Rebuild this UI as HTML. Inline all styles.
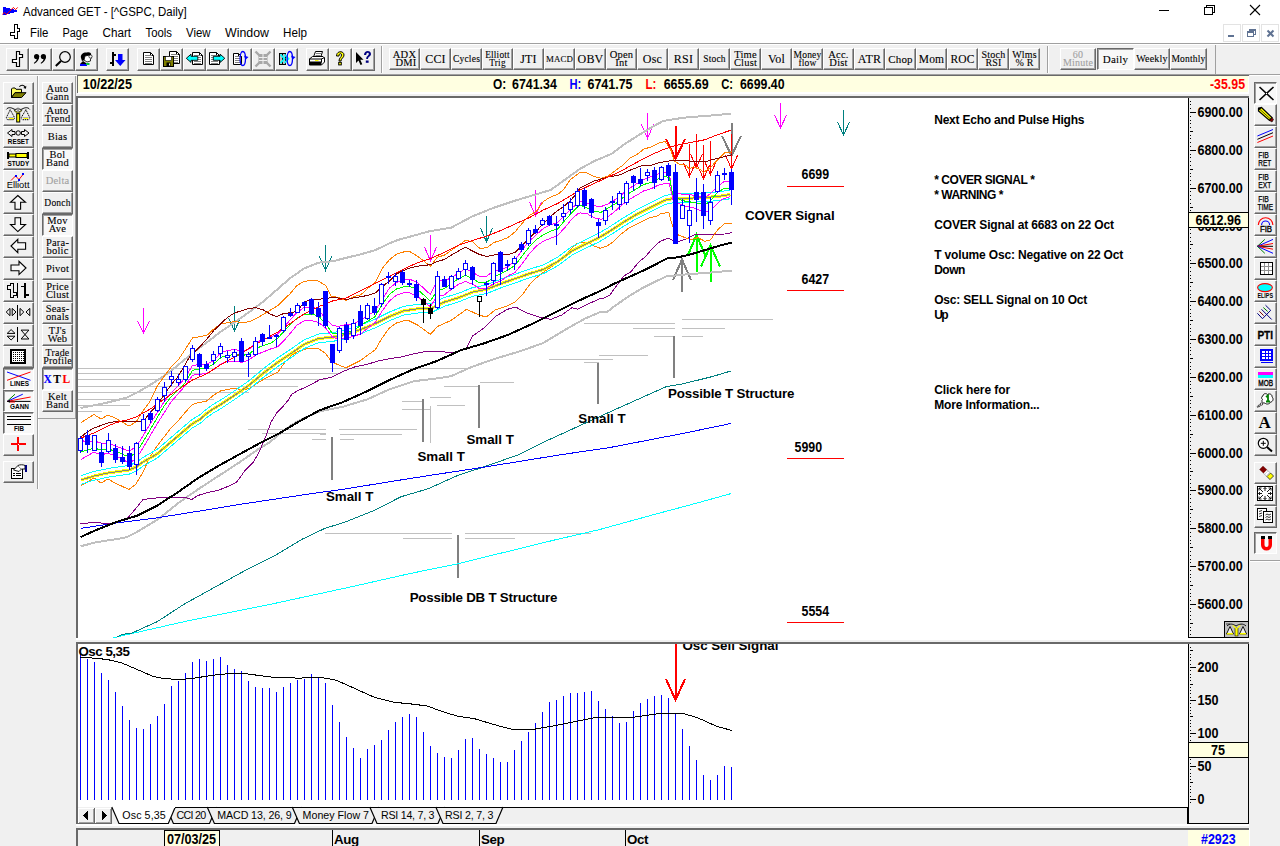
<!DOCTYPE html>
<html><head><meta charset="utf-8"><title>Advanced GET</title>
<style>
*{box-sizing:border-box}
html,body{margin:0;padding:0}
body{width:1280px;height:846px;background:#f0f0f0;position:relative;overflow:hidden;font-family:"Liberation Sans",sans-serif;font-size:12px;color:#000}
.abs{position:absolute}
.btn{position:absolute;background:#f0f0f0;border-top:1px solid #fff;border-left:1px solid #fff;border-right:1px solid #696969;border-bottom:1px solid #696969;box-shadow:inset -1px -1px 0 #a0a0a0}
.btn.dn{border-top:1px solid #696969;border-left:1px solid #696969;border-right:1px solid #fff;border-bottom:1px solid #fff;box-shadow:inset 1px 1px 0 #a0a0a0;background:#f8f8f8}
.sf{font-family:"Liberation Serif",serif;font-size:11px;line-height:8px;-webkit-text-stroke-width:0.1px;text-align:center;letter-spacing:0.2px;color:#000;white-space:nowrap;display:flex;align-items:center;justify-content:center;flex-direction:column}
.b{font-weight:bold}
svg{position:absolute;left:0;top:0}
</style></head><body>
<div class="abs" style="left:0;top:0;width:1280px;height:44px;background:#fff"></div><svg class="abs" style="left:0px;top:0px" width="22" height="22" viewBox="0 0 22 22" shape-rendering="crispEdges"><polygon points="3,7 6,7 6,8 10,8 10,9 14,9 14,10 17,10 17,12 14,12 14,13 10,13 10,14 6,14 6,15 3,15" fill="#0000ff"/><polyline points="2.300,14.400 4.500,12.500 6.500,14.500 13.400,7.400 15.500,9.600 17.700,7.400" stroke="#ff0000" stroke-width="1" fill="none" shape-rendering="auto"/></svg><svg width="400" height="44" viewBox="0 0 400 44"><text x="23" y="15.6" font-size="12" textLength="163.7" lengthAdjust="spacingAndGlyphs" style="font-family:'Liberation Sans',sans-serif">Advanced GET - [^GSPC, Daily]</text><text x="30" y="36.7" font-size="12" textLength="18.4" lengthAdjust="spacingAndGlyphs" style="font-family:'Liberation Sans',sans-serif">File</text><text x="62.5" y="36.7" font-size="12" textLength="25.5" lengthAdjust="spacingAndGlyphs" style="font-family:'Liberation Sans',sans-serif">Page</text><text x="102.5" y="36.7" font-size="12" textLength="28.5" lengthAdjust="spacingAndGlyphs" style="font-family:'Liberation Sans',sans-serif">Chart</text><text x="145.6" y="36.7" font-size="12" textLength="26.4" lengthAdjust="spacingAndGlyphs" style="font-family:'Liberation Sans',sans-serif">Tools</text><text x="186" y="36.7" font-size="12" textLength="24.5" lengthAdjust="spacingAndGlyphs" style="font-family:'Liberation Sans',sans-serif">View</text><text x="225" y="36.7" font-size="12" textLength="44" lengthAdjust="spacingAndGlyphs" style="font-family:'Liberation Sans',sans-serif">Window</text><text x="283" y="36.7" font-size="12" textLength="24" lengthAdjust="spacingAndGlyphs" style="font-family:'Liberation Sans',sans-serif">Help</text></svg><svg width="1280" height="44" viewBox="0 0 1280 44"><g stroke="#000" stroke-width="1" fill="none" shape-rendering="crispEdges"><line x1="1159" y1="10.5" x2="1169" y2="10.5"/><rect x="1204.5" y="7.5" width="8" height="7"/><polyline points="1206.5,7.5 1206.5,5.5 1214.5,5.5 1214.5,12.5 1212.5,12.5"/></g><g stroke="#000" stroke-width="1.1"><line x1="1250" y1="5" x2="1260" y2="15"/><line x1="1260" y1="5" x2="1250" y2="15"/></g><g fill="none" stroke="#e3e3e3" shape-rendering="crispEdges"><rect x="1223.5" y="24.5" width="17" height="17"/><rect x="1242.5" y="24.5" width="17" height="17"/><rect x="1261.5" y="24.5" width="17" height="17"/></g><g stroke="#5f7292" fill="none"><line x1="1228" y1="36" x2="1234" y2="36" stroke-width="2" shape-rendering="crispEdges"/><rect x="1247.500" y="32.500" width="6" height="4" shape-rendering="crispEdges"/><line x1="1247" y1="32" x2="1254" y2="32" stroke-width="2" shape-rendering="crispEdges"/><polyline points="1249.500,31 1249.500,29.500 1255.500,29.500 1255.500,34.500 1254,34.500" shape-rendering="crispEdges"/><line x1="1249" y1="29.5" x2="1256" y2="29.5" stroke-width="2" shape-rendering="crispEdges"/><g stroke-width="2"><line x1="1267.500" y1="30.500" x2="1273.500" y2="36.500"/><line x1="1273.500" y1="30.500" x2="1267.500" y2="36.500"/></g></g></svg><svg class="abs" style="left:9px;top:24px" width="12" height="16" viewBox="0 0 12 16" shape-rendering="crispEdges"><polygon points="5.5,0.5 8.5,0.5 8.5,4.5 10.5,4.5 10.5,7.500 8.500,7.500 8.500,14.500 5.500,14.500 5.500,11.500 1.500,11.500 1.500,8.500 5.500,8.500" fill="#fff" stroke="#000"/></svg><div class="abs" style="left:0;top:43px;width:1280px;height:1px;background:#a0a0a0"></div><div class="abs" style="left:0;top:44px;width:1280px;height:1px;background:#fff"></div><div class="abs" style="left:0;top:74px;width:1249px;height:1px;background:#a0a0a0"></div><div class="abs" style="left:0;top:75px;width:1249px;height:1px;background:#fff"></div><div class="btn " style="left:6px;top:48px;width:23px;height:23px;"><svg style="position:absolute;left:0;top:0" width="21" height="21" viewBox="0 0 21 21"><polygon points="9.5,2.5 12.5,2.5 12.5,5.5 15.5,5.5 15.5,8.5 12.5,8.5 12.5,17.5 9.5,17.5 9.5,13.5 5.5,13.5 5.5,10.5 9.5,10.5" fill="#fff" stroke="#000" stroke-width="1.2"/></svg></div><div class="btn " style="left:29px;top:48px;width:23px;height:23px;"><svg style="position:absolute;left:0;top:0" width="21" height="21" viewBox="0 0 21 21"><g fill="#000"><circle cx="6.6" cy="7.5" r="2.6"/><path d="M9.2,7.5 C9.2,11 7,13 4.3,14.8 L3.8,14 C6,12.500 7,11 6.6,9 Z"/><circle cx="13.4" cy="7.5" r="2.6"/><path d="M16,7.5 C16,11 13.800,13 11.100,14.8 L10.600,14 C12.800,12.500 13.800,11 13.400,9 Z"/></g></svg></div><div class="btn " style="left:52px;top:48px;width:23px;height:23px;"><svg style="position:absolute;left:0;top:0" width="21" height="21" viewBox="0 0 21 21"><circle cx="12" cy="8" r="5.3" fill="none" stroke="#000" stroke-width="1.2"/><line x1="8" y1="12" x2="2.800" y2="17" stroke="#000" stroke-width="2"/></svg></div><div class="btn " style="left:75px;top:48px;width:23px;height:23px;"><svg style="position:absolute;left:0;top:0" width="21" height="21" viewBox="0 0 21 21"><path d="M5,9 C4,5 8,3 11,3.500 C13,2.500 16,4 15,6 L11,7 L9,11 L6,12 Z" fill="#000"/><path d="M9,7 L14,6 L15.500,9 L14.500,10 L14.500,12 L11,13 L8,11 Z" fill="#fff" stroke="#000" stroke-width="0.8"/><circle cx="14.5" cy="7.5" r="1.6" fill="#fff" stroke="#000" stroke-width="0.7"/><path d="M7,12 L10,14 L10,15 L4,15 Z" fill="#000"/><rect x="4" y="15" width="7" height="2" fill="#0000ff"/><rect x="10" y="14" width="3.500" height="2" fill="#00c040"/></svg></div><div class="btn " style="left:106px;top:48px;width:23px;height:23px;"><svg style="position:absolute;left:0;top:0" width="21" height="21" viewBox="0 0 21 21"><rect x="5" y="3" width="2" height="14" fill="#000"/><rect x="3" y="13" width="2" height="2" fill="#000"/><rect x="7" y="5" width="2" height="2" fill="#000"/><polygon points="11,5 15.500,5 15.500,11 18.500,11 13.250,17 8,11 11,11" fill="#0000ff"/></svg></div><div class="btn " style="left:137px;top:48px;width:23px;height:23px;"><svg style="position:absolute;left:0;top:0" width="21" height="21" viewBox="0 0 21 21"><polygon points="5.5,3.5 12.5,3.5 15.5,6.5 15.5,15.5 5.5,15.5" fill="#fff" stroke="#000"/><polyline points="12.5,3.5 12.5,6.5 15.5,6.5" fill="none" stroke="#000"/><line x1="7" y1="6.5" x2="14" y2="6.5" stroke="#808080"/><line x1="7" y1="8.5" x2="14" y2="8.5" stroke="#808080"/><line x1="7" y1="10.5" x2="14" y2="10.5" stroke="#808080"/><line x1="7" y1="12.5" x2="14" y2="12.5" stroke="#808080"/><line x1="7" y1="14.5" x2="14" y2="14.5" stroke="#808080"/></svg></div><div class="btn " style="left:160px;top:48px;width:23px;height:23px;"><svg style="position:absolute;left:0;top:0" width="21" height="21" viewBox="0 0 21 21"><polygon points="8.5,2.5 15.5,2.5 18.5,5.5 18.5,14.5 8.5,14.5" fill="#fff" stroke="#000"/><polyline points="15.5,2.5 15.5,5.5 18.5,5.5" fill="none" stroke="#000"/><line x1="10" y1="5.5" x2="17" y2="5.5" stroke="#808080"/><line x1="10" y1="7.5" x2="17" y2="7.5" stroke="#808080"/><line x1="10" y1="9.5" x2="17" y2="9.5" stroke="#808080"/><line x1="10" y1="11.5" x2="17" y2="11.5" stroke="#808080"/><line x1="10" y1="13.5" x2="17" y2="13.5" stroke="#808080"/><rect x="2.5" y="7.5" width="10" height="10" fill="#808000" stroke="#000"/><rect x="4.500" y="7.500" width="6" height="4" fill="#fff" stroke="#000" stroke-width="0.6"/><rect x="5.500" y="13.500" width="4" height="4" fill="#000"/><rect x="8" y="14.500" width="1" height="2" fill="#fff"/></svg></div><div class="btn " style="left:183px;top:48px;width:23px;height:23px;"><svg style="position:absolute;left:0;top:0" width="21" height="21" viewBox="0 0 21 21"><polygon points="8.5,3.5 15.5,3.5 18.5,6.5 18.5,15.5 8.5,15.5" fill="#fff" stroke="#000"/><polyline points="15.5,3.5 15.5,6.5 18.5,6.5" fill="none" stroke="#000"/><line x1="10" y1="6.5" x2="17" y2="6.5" stroke="#808080"/><line x1="10" y1="8.5" x2="17" y2="8.5" stroke="#808080"/><line x1="10" y1="10.5" x2="17" y2="10.5" stroke="#808080"/><line x1="10" y1="12.5" x2="17" y2="12.5" stroke="#808080"/><line x1="10" y1="14.5" x2="17" y2="14.5" stroke="#808080"/><polygon points="2.300,9.300 7,5.200 7,7.300 13.800,7.300 13.800,11.300 7,11.300 7,13.400" fill="#00ffff" stroke="#000" stroke-width="0.900"/></svg></div><div class="btn " style="left:206px;top:48px;width:23px;height:23px;"><svg style="position:absolute;left:0;top:0" width="21" height="21" viewBox="0 0 21 21"><polygon points="2.5,3.5 9.5,3.5 12.5,6.5 12.5,15.5 2.5,15.5" fill="#fff" stroke="#000"/><polyline points="9.5,3.5 9.5,6.5 12.5,6.5" fill="none" stroke="#000"/><line x1="4" y1="6.5" x2="11" y2="6.5" stroke="#808080"/><line x1="4" y1="8.5" x2="11" y2="8.5" stroke="#808080"/><line x1="4" y1="10.5" x2="11" y2="10.5" stroke="#808080"/><line x1="4" y1="12.5" x2="11" y2="12.5" stroke="#808080"/><line x1="4" y1="14.5" x2="11" y2="14.5" stroke="#808080"/><polygon points="17.800,9.300 13.100,5.200 13.100,7.300 6.300,7.300 6.300,11.300 13.100,11.300 13.100,13.400" fill="#00ffff" stroke="#000" stroke-width="0.900"/></svg></div><div class="btn " style="left:229px;top:48px;width:23px;height:23px;"><svg style="position:absolute;left:0;top:0" width="21" height="21" viewBox="0 0 21 21"><polygon points="3.5,4.5 8.5,4.5 11.5,7.5 11.5,15.5 3.5,15.5" fill="#fff" stroke="#000"/><polyline points="8.5,4.5 8.5,7.5 11.5,7.5" fill="none" stroke="#000"/><line x1="5" y1="7.5" x2="10" y2="7.5" stroke="#808080"/><line x1="5" y1="9.5" x2="10" y2="9.5" stroke="#808080"/><line x1="5" y1="11.5" x2="10" y2="11.5" stroke="#808080"/><line x1="5" y1="13.5" x2="10" y2="13.5" stroke="#808080"/><ellipse cx="12.8" cy="9.500" rx="2.700" ry="7" fill="none" stroke="#0000ff" stroke-width="1.300"/><polygon points="14,6.500 18.5,8 15.5,10.800" fill="#0000ff"/></svg></div><div class="btn " style="left:252px;top:48px;width:23px;height:23px;"><svg style="position:absolute;left:0;top:0" width="21" height="21" viewBox="0 0 21 21"><g stroke="#a8a8a8" stroke-width="2.4"><line x1="2.5" y1="2.5" x2="17.5" y2="17.5"/><line x1="17.5" y1="2.5" x2="2.5" y2="17.5"/></g><rect x="5.500" y="5" width="9" height="10" fill="#a8a8a8"/><g stroke="#f0f0f0" stroke-width="1"><line x1="6" y1="8.500" x2="14" y2="8.500"/><line x1="6" y1="11.500" x2="14" y2="11.500"/><line x1="10" y1="5" x2="10" y2="15"/></g></svg></div><div class="btn " style="left:275px;top:48px;width:23px;height:23px;"><svg style="position:absolute;left:0;top:0" width="21" height="21" viewBox="0 0 21 21"><rect x="3.5" y="4.5" width="6" height="11" fill="#c0c0c0" stroke="#000"/><line x1="6.500" y1="4.500" x2="6.500" y2="15.500" stroke="#000"/><g fill="none" stroke="#00ffff" stroke-width="1.8"><polyline points="4.500,5.500 8.500,9.800 4.500,14"/><polyline points="8.500,5.500 12.500,9.800 8.500,14"/></g><ellipse cx="13.8" cy="9.500" rx="2.700" ry="7" fill="none" stroke="#0000ff" stroke-width="1.300"/><polygon points="15,6.500 19.5,8 16.5,10.800" fill="#0000ff"/></svg></div><div class="btn " style="left:306px;top:48px;width:23px;height:23px;"><svg style="position:absolute;left:0;top:0" width="21" height="21" viewBox="0 0 21 21"><polygon points="6.5,8 8.500,2.500 15.500,2.500 13.800,8" fill="#fff" stroke="#000"/><line x1="9" y1="4.500" x2="14" y2="4.500" stroke="#808080"/><line x1="8.500" y1="6.500" x2="13.500" y2="6.500" stroke="#808080"/><path d="M2.500,10 L5.500,7.500 L16,7.500 L17.500,9 L17.500,13 L14.500,16 L2.500,16 Z" fill="#fff" stroke="#000"/><rect x="2.500" y="10" width="12" height="3" fill="#fff" stroke="#000"/><rect x="2.500" y="13" width="12" height="3" fill="#000"/><rect x="8" y="11" width="3.500" height="1" fill="#ffff00"/><line x1="14.500" y1="10" x2="17.500" y2="8.500" stroke="#000"/></svg></div><div class="btn " style="left:329px;top:48px;width:23px;height:23px;"><svg style="position:absolute;left:0;top:0" width="21" height="21" viewBox="0 0 21 21"><path d="M6.500,7 C6.500,1.500 14,1.500 14,6 C14,9 11,9 11,12 L9,12 C9,8.500 11.500,8.500 11.500,6 C11.500,4 9,4 9,7 Z" fill="#ffff00" stroke="#000" stroke-width="1"/><rect x="8.700" y="13.300" width="2.600" height="2.600" fill="#ffff00" stroke="#000" stroke-width="1"/></svg></div><div class="btn " style="left:352px;top:48px;width:23px;height:23px;"><svg style="position:absolute;left:0;top:0" width="21" height="21" viewBox="0 0 21 21"><polygon points="3,3 3,14 5.500,11.500 7.500,16 9.300,15.200 7.300,10.800 10.500,10.800" fill="#000"/><path d="M11,6 C11,1 18,1 18,5 C18,7.500 15,7.500 15,10 L13.200,10 C13.200,6.800 15.800,6.800 15.800,5 C15.800,3.300 13.200,3.300 13.200,6 Z" fill="#000080"/><rect x="12.800" y="11.500" width="2.800" height="2.300" fill="#000080"/></svg></div><div class="abs" style="left:381px;top:46px;width:1px;height:27px;background:#a0a0a0"></div><div class="abs" style="left:382px;top:46px;width:1px;height:27px;background:#fff"></div><div class="abs" style="left:1047px;top:46px;width:1px;height:27px;background:#a0a0a0"></div><div class="abs" style="left:1048px;top:46px;width:1px;height:27px;background:#fff"></div><div class="abs" style="left:1215px;top:45px;width:1px;height:29px;background:#a0a0a0"></div><div class="btn sf " style="left:389px;top:48px;width:31px;height:22px;font-size:10.5px;color:#000;"><div>ADX</div><div>&nbsp;DMI</div></div><div class="btn sf " style="left:420px;top:48px;width:31px;height:22px;font-size:12px;color:#000;"><div>CCI</div></div><div class="btn sf " style="left:451px;top:48px;width:31px;height:22px;font-size:9.5px;color:#000;"><div>Cycles</div></div><div class="btn sf " style="left:482px;top:48px;width:31px;height:22px;font-size:9.3px;color:#000;"><div>Elliott</div><div>Trig</div></div><div class="btn sf " style="left:513px;top:48px;width:31px;height:22px;font-size:12px;color:#000;"><div>JTI</div></div><div class="btn sf " style="left:544px;top:48px;width:31px;height:22px;font-size:8.8px;color:#000;"><div>MACD</div></div><div class="btn sf " style="left:575px;top:48px;width:31px;height:22px;font-size:12px;color:#000;"><div>OBV</div></div><div class="btn sf " style="left:606px;top:48px;width:31px;height:22px;font-size:10.5px;color:#000;"><div>Open</div><div>Int</div></div><div class="btn sf " style="left:637px;top:48px;width:31px;height:22px;font-size:12px;color:#000;"><div>Osc</div></div><div class="btn sf " style="left:668px;top:48px;width:31px;height:22px;font-size:12px;color:#000;"><div>RSI</div></div><div class="btn sf " style="left:699px;top:48px;width:31px;height:22px;font-size:9.5px;color:#000;"><div>Stoch</div></div><div class="btn sf " style="left:730px;top:48px;width:31px;height:22px;font-size:10.5px;color:#000;"><div>Time</div><div>Clust</div></div><div class="btn sf " style="left:761px;top:48px;width:31px;height:22px;font-size:12px;color:#000;"><div>Vol</div></div><div class="btn sf " style="left:792px;top:48px;width:31px;height:22px;font-size:9.5px;color:#000;"><div>Money</div><div>flow</div></div><div class="btn sf " style="left:823px;top:48px;width:31px;height:22px;font-size:10.5px;color:#000;"><div>Acc.</div><div>Dist</div></div><div class="btn sf " style="left:854px;top:48px;width:31px;height:22px;font-size:12px;color:#000;"><div>ATR</div></div><div class="btn sf " style="left:885px;top:48px;width:31px;height:22px;font-size:11px;color:#000;"><div>Chop</div></div><div class="btn sf " style="left:916px;top:48px;width:31px;height:22px;font-size:11.5px;color:#000;"><div>Mom</div></div><div class="btn sf " style="left:947px;top:48px;width:31px;height:22px;font-size:11.5px;color:#000;"><div>ROC</div></div><div class="btn sf " style="left:978px;top:48px;width:31px;height:22px;font-size:10px;color:#000;"><div>Stoch</div><div>RSI</div></div><div class="btn sf " style="left:1009px;top:48px;width:31px;height:22px;font-size:10px;color:#000;"><div>Wlms</div><div>% R</div></div><div class="btn sf " style="left:1060px;top:48px;width:36px;height:22px;font-size:10px;color:#a0a0a0;"><div>60</div><div>Minute</div></div><div class="btn sf dn" style="left:1097px;top:48px;width:37px;height:22px;font-size:11px;color:#000;"><div>Daily</div></div><div class="btn sf " style="left:1134px;top:48px;width:36px;height:22px;font-size:10px;color:#000;"><div>Weekly</div></div><div class="btn sf " style="left:1170px;top:48px;width:37px;height:22px;font-size:9.5px;color:#000;"><div>Monthly</div></div><div class="abs" style="left:37px;top:76px;width:1px;height:413px;background:#a0a0a0"></div><div class="abs" style="left:38px;top:76px;width:1px;height:413px;background:#fff"></div><div class="abs" style="left:38px;top:418px;width:38px;height:1px;background:#a0a0a0"></div><div class="abs" style="left:75px;top:76px;width:1px;height:343px;background:#a0a0a0"></div><div class="btn " style="left:3px;top:82px;width:31px;height:22px;"><svg style="position:absolute;left:0;top:0" width="29" height="19" viewBox="0 0 29 19"><polygon points="7.500,14.500 7.500,6 8.500,5 11,5 12,6.300 17.500,6.300 17.500,9.700 11,9.700" fill="#ffff60" stroke="#000" stroke-width="1"/><polygon points="7.500,14.500 11,9.700 22,9.700 17.600,14.500" fill="#808000" stroke="#000" stroke-width="1"/><path d="M15.400,3.800 C17,1.500 20,1.800 21.300,4.600" fill="none" stroke="#000" stroke-width="1.100"/><polygon points="19.300,5 22.300,2.800 22,5.800" fill="#000"/></svg></div><div class="btn " style="left:3px;top:104px;width:31px;height:22px;"><svg style="position:absolute;left:0;top:0" width="29" height="19" viewBox="0 0 29 19"><g fill="none" stroke="#000" stroke-width="1"><path d="M2.400,4.400 C4,2 7,2.500 9,3.600 C10.500,4.500 12,5 13.200,3.500 L14.900,3.500 C16,5 17.500,4.500 19,3.600 C21,2.500 24,2 25.700,4.400"/><path d="M6.200,4.700 L2.400,12.500 C2.600,14.600 3.500,14.700 4,14.700 L9,14.700 C9.600,14.700 10.300,14.600 10.500,12.500 Z" stroke-dasharray="1.300,0.700"/><path d="M21.900,4.700 L17.300,12.500 C17.500,14.600 18.300,14.700 19,14.700 L24,14.700 C24.700,14.700 25.500,14.600 25.700,12.500 Z" stroke-dasharray="1.300,0.700"/></g><rect x="5" y="13" width="4.800" height="1" fill="#ffff00"/><rect x="19.500" y="13" width="4.800" height="1" fill="#ffff00"/><rect x="3.500" y="12.200" width="6" height="0.800" fill="#a0a0a0"/><rect x="18.500" y="12.200" width="6" height="0.800" fill="#a0a0a0"/><polygon points="10,5.500 13.800,9 18.100,5.500 17,5.500 14,7.500 11,5.500" fill="#ffff00" stroke="#000" stroke-width="0.600"/><rect x="12.700" y="8.700" width="3" height="8.300" fill="#ffff00" stroke="#000" stroke-width="1"/><rect x="13.200" y="2.700" width="1.700" height="4.400" fill="#909090"/></svg></div><div class="btn " style="left:3px;top:126px;width:31px;height:22px;"><svg style="position:absolute;left:0;top:0" width="29" height="19" viewBox="0 0 29 19"><g fill="#f0f0f0" stroke="#000" stroke-width="1"><polygon points="3.500,6 8,2.500 8,4.500 11,4.500 11,7.500 8,7.500 8,9.500"/><polygon points="25,6 20.500,2.500 20.500,4.500 17.500,4.500 17.500,7.500 20.500,7.500 20.500,9.500"/><circle cx="14.200" cy="6" r="2.200"/></g><text x="3.8" y="17" font-size="7.5" textLength="21.2" lengthAdjust="spacingAndGlyphs" fill="#000" shape-rendering="auto" style="font-family:'Liberation Sans',sans-serif;font-weight:bold">RESET</text></svg></div><div class="btn " style="left:3px;top:148px;width:31px;height:22px;"><svg style="position:absolute;left:0;top:0" width="29" height="19" viewBox="0 0 29 19"><rect x="3" y="3" width="2" height="7" fill="#000"/><rect x="23" y="3" width="2" height="7" fill="#000"/><rect x="5" y="5" width="7" height="3" fill="#ffff00" stroke="#000" stroke-width="1"/><rect x="12" y="4.500" width="11" height="4" fill="#ffff00" stroke="#000" stroke-width="1"/><text x="3.4" y="17" font-size="7.5" textLength="21.8" lengthAdjust="spacingAndGlyphs" fill="#000" shape-rendering="auto" style="font-family:'Liberation Sans',sans-serif;font-weight:bold">STUDY</text></svg></div><div class="btn " style="left:3px;top:170px;width:31px;height:22px;"><svg style="position:absolute;left:0;top:0" width="29" height="19" viewBox="0 0 29 19" shape-rendering="crispEdges"><polyline points="7,9.500 11.500,5 15,8.500 19,3.500" fill="none" stroke="#ff0000" stroke-width="1" shape-rendering="auto"/><rect x="11" y="3.500" width="2" height="2" fill="#0000ff"/><rect x="14" y="8" width="2" height="2" fill="#0000ff"/><rect x="18" y="2" width="2" height="2" fill="#0000ff"/><text x="2.7" y="16.8" font-size="8.5" textLength="22.8" lengthAdjust="spacingAndGlyphs" fill="#000" shape-rendering="auto" style="font-family:'Liberation Sans',sans-serif;font-weight:normal">Elliott</text></svg></div><div class="btn " style="left:3px;top:192px;width:31px;height:22px;"><svg style="position:absolute;left:0;top:0" width="29" height="19" viewBox="0 0 29 19"><polygon points="13.800,2.500 21.500,9.300 16.600,9.300 16.600,16.300 11,16.300 11,9.300 6.500,9.300" fill="#f8f8f8" stroke="#000" stroke-width="1.1"/></svg></div><div class="btn " style="left:3px;top:214px;width:31px;height:22px;"><svg style="position:absolute;left:0;top:0" width="29" height="19" viewBox="0 0 29 19"><polygon points="13.800,16.600 21.500,9.500 16.600,9.500 16.600,2.700 11,2.700 11,9.500 6.500,9.500" fill="#f8f8f8" stroke="#000" stroke-width="1.1"/></svg></div><div class="btn " style="left:3px;top:236px;width:31px;height:22px;"><svg style="position:absolute;left:0;top:0" width="29" height="19" viewBox="0 0 29 19"><polygon points="7,9 13.800,2.300 13.800,5.800 21.600,5.800 21.600,12.300 13.800,12.300 13.800,15.700" fill="#f8f8f8" stroke="#000" stroke-width="1.1"/></svg></div><div class="btn " style="left:3px;top:258px;width:31px;height:22px;"><svg style="position:absolute;left:0;top:0" width="29" height="19" viewBox="0 0 29 19"><polygon points="22,9 15,2.300 15,6 7,6 7,11.800 15,11.800 15,15.600" fill="#f8f8f8" stroke="#000" stroke-width="1.1"/></svg></div><div class="btn " style="left:3px;top:280px;width:31px;height:22px;"><svg style="position:absolute;left:0;top:0" width="29" height="19" viewBox="0 0 29 19" shape-rendering="crispEdges"><polygon points="6.500,2.500 9.500,2.500 9.500,11.500 12.500,11.500 12.500,14.500 9.500,14.500 9.500,16.500 6.500,16.500 6.500,8.500 3.500,8.500 3.500,4.500 6.500,4.500" fill="#f0f0f0" stroke="#000" stroke-width="1"/><rect x="13" y="2" width="1" height="15" fill="#000"/><rect x="20" y="2" width="2" height="15" fill="#000"/><rect x="17" y="5" width="3" height="1" fill="#000"/><rect x="22" y="13" width="3" height="2" fill="#000"/></svg></div><div class="btn " style="left:3px;top:302px;width:31px;height:22px;"><svg style="position:absolute;left:0;top:0" width="29" height="19" viewBox="0 0 29 19" shape-rendering="crispEdges"><rect x="13" y="2" width="1" height="15" fill="#000"/><g fill="none" stroke="#000" stroke-width="1" shape-rendering="auto"><polygon points="2.200,9 6,5.400 6,12.700"/><polygon points="12,9 8.200,5.400 8.200,12.700"/><polygon points="19.800,9 16,5.400 16,12.700"/><polygon points="22,9 25.800,5.400 25.800,12.700"/></g></svg></div><div class="btn " style="left:3px;top:324px;width:31px;height:22px;"><svg style="position:absolute;left:0;top:0" width="29" height="19" viewBox="0 0 29 19" shape-rendering="crispEdges"><rect x="13" y="2" width="1" height="15" fill="#000"/><g fill="none" stroke="#000" stroke-width="1" shape-rendering="auto"><polygon points="3.200,8.400 7.100,4.600 11,8.400"/><polygon points="3.200,11.200 7.100,15 11,11.200"/><polygon points="17.100,5.100 24.900,5.100 17.100,14 24.900,14"/></g></svg></div><div class="btn " style="left:3px;top:346px;width:31px;height:22px;"><svg style="position:absolute;left:0;top:0" width="29" height="19" viewBox="0 0 29 19" shape-rendering="crispEdges"><rect x="6" y="2" width="16" height="15" fill="#000"/><rect x="8" y="4" width="12" height="11" fill="#fff"/><rect x="9" y="5" width="1" height="1" fill="#000"/><rect x="9" y="7" width="1" height="1" fill="#000"/><rect x="9" y="9" width="1" height="1" fill="#000"/><rect x="9" y="11" width="1" height="1" fill="#000"/><rect x="9" y="13" width="1" height="1" fill="#000"/><rect x="11" y="5" width="1" height="1" fill="#000"/><rect x="11" y="7" width="1" height="1" fill="#000"/><rect x="11" y="9" width="1" height="1" fill="#000"/><rect x="11" y="11" width="1" height="1" fill="#000"/><rect x="11" y="13" width="1" height="1" fill="#000"/><rect x="13" y="5" width="1" height="1" fill="#000"/><rect x="13" y="7" width="1" height="1" fill="#000"/><rect x="13" y="9" width="1" height="1" fill="#000"/><rect x="13" y="11" width="1" height="1" fill="#000"/><rect x="13" y="13" width="1" height="1" fill="#000"/><rect x="15" y="5" width="1" height="1" fill="#000"/><rect x="15" y="7" width="1" height="1" fill="#000"/><rect x="15" y="9" width="1" height="1" fill="#000"/><rect x="15" y="11" width="1" height="1" fill="#000"/><rect x="15" y="13" width="1" height="1" fill="#000"/><rect x="17" y="5" width="1" height="1" fill="#000"/><rect x="17" y="7" width="1" height="1" fill="#000"/><rect x="17" y="9" width="1" height="1" fill="#000"/><rect x="17" y="11" width="1" height="1" fill="#000"/><rect x="17" y="13" width="1" height="1" fill="#000"/><rect x="19" y="5" width="1" height="1" fill="#000"/><rect x="19" y="7" width="1" height="1" fill="#000"/><rect x="19" y="9" width="1" height="1" fill="#000"/><rect x="19" y="11" width="1" height="1" fill="#000"/><rect x="19" y="13" width="1" height="1" fill="#000"/></svg></div><div class="btn dn" style="left:3px;top:368px;width:31px;height:22px;"><svg style="position:absolute;left:0;top:0" width="29" height="19" viewBox="0 0 29 19" shape-rendering="crispEdges"><g shape-rendering="auto" stroke-width="1"><line x1="3" y1="3" x2="26.500" y2="11.300" stroke="#0000ff"/><line x1="3" y1="11.300" x2="26.500" y2="3" stroke="#ff0000"/></g><text x="6" y="17.4" font-size="7.5" textLength="19" lengthAdjust="spacingAndGlyphs" fill="#000" shape-rendering="auto" style="font-family:'Liberation Sans',sans-serif;font-weight:bold">LINES</text></svg></div><div class="btn dn" style="left:3px;top:390px;width:31px;height:22px;"><svg style="position:absolute;left:0;top:0" width="29" height="19" viewBox="0 0 29 19" shape-rendering="crispEdges"><g shape-rendering="auto" stroke-width="1"><line x1="3.200" y1="10.400" x2="11" y2="3.200" stroke="#008000"/><line x1="3.200" y1="10.400" x2="18.800" y2="3.200" stroke="#0000ff"/><line x1="3.200" y1="10.400" x2="26.600" y2="6" stroke="#ff0000"/><line x1="3.200" y1="10.400" x2="26.600" y2="10.400" stroke="#000"/><polygon points="3,10.400 6,9 6,11.800" fill="#000"/><line x1="6" y1="11" x2="11" y2="11" stroke="#ff0000"/></g><text x="6" y="17.6" font-size="7.5" textLength="19" lengthAdjust="spacingAndGlyphs" fill="#000" shape-rendering="auto" style="font-family:'Liberation Sans',sans-serif;font-weight:bold">GANN</text></svg></div><div class="btn dn" style="left:3px;top:412px;width:31px;height:22px;"><svg style="position:absolute;left:0;top:0" width="29" height="19" viewBox="0 0 29 19" shape-rendering="crispEdges"><rect x="3" y="3" width="24" height="1" fill="#000"/><rect x="3" y="6" width="24" height="1" fill="#000"/><rect x="3" y="11" width="24" height="1" fill="#000"/><text x="10" y="17.8" font-size="7.5" textLength="10" lengthAdjust="spacingAndGlyphs" fill="#000" shape-rendering="auto" style="font-family:'Liberation Sans',sans-serif;font-weight:bold">FIB</text></svg></div><div class="btn " style="left:3px;top:434px;width:31px;height:22px;"><svg style="position:absolute;left:0;top:0" width="29" height="19" viewBox="0 0 29 19" shape-rendering="crispEdges"><rect x="7" y="8" width="15" height="2" fill="#ff0000"/><rect x="13" y="2" width="2" height="14" fill="#ff0000"/><rect x="13.500" y="8.500" width="1" height="1" fill="#fff"/></svg></div><div class="btn " style="left:3px;top:461px;width:31px;height:22px;"><svg style="position:absolute;left:0;top:0" width="29" height="19" viewBox="0 0 29 19" shape-rendering="crispEdges"><rect x="7.500" y="6.500" width="11" height="10" fill="#fff" stroke="#000" stroke-width="1.2"/><rect x="9" y="11" width="2" height="1" fill="#000"/><rect x="12" y="11" width="5" height="1" fill="#000"/><rect x="9" y="13" width="2" height="1" fill="#000"/><rect x="12" y="13" width="5" height="1" fill="#000"/><path d="M9.500,8 L14,3.500 L17.500,7 L15,9.500 Z" fill="#fff" stroke="#000" stroke-width="0.9" shape-rendering="auto"/><path d="M14,3.500 C16,2.500 19,2.500 21,3.500 L21,7 L17.500,7" fill="#fff" stroke="#000" stroke-width="0.9" shape-rendering="auto"/><rect x="21" y="3" width="2" height="7" fill="#000080"/></svg></div><div class="btn sf " style="left:42px;top:82px;width:31px;height:22px;font-size:10.5px;color:#000;"><div>Auto</div><div>Gann</div></div><div class="btn sf " style="left:42px;top:104px;width:31px;height:22px;font-size:10.5px;color:#000;"><div>Auto</div><div>Trend</div></div><div class="btn sf " style="left:42px;top:126px;width:31px;height:22px;font-size:10.5px;color:#000;"><div>Bias</div></div><div class="btn sf dn" style="left:42px;top:148px;width:31px;height:22px;font-size:10.5px;color:#000;"><div>Bol</div><div>Band</div></div><div class="btn sf " style="left:42px;top:170px;width:31px;height:22px;font-size:10.5px;color:#a0a0a0;"><div>Delta</div></div><div class="btn sf " style="left:42px;top:192px;width:31px;height:22px;font-size:9.5px;color:#000;"><div>Donch</div></div><div class="btn sf dn" style="left:42px;top:214px;width:31px;height:22px;font-size:10.5px;color:#000;"><div>Mov</div><div>Ave</div></div><div class="btn sf " style="left:42px;top:236px;width:31px;height:22px;font-size:10.5px;color:#000;"><div>Para-</div><div>bolic</div></div><div class="btn sf " style="left:42px;top:258px;width:31px;height:22px;font-size:10.5px;color:#000;"><div>Pivot</div></div><div class="btn sf " style="left:42px;top:280px;width:31px;height:22px;font-size:10.5px;color:#000;"><div>Price</div><div>Clust</div></div><div class="btn sf " style="left:42px;top:302px;width:31px;height:22px;font-size:10.5px;color:#000;"><div>Seas-</div><div>onals</div></div><div class="btn sf " style="left:42px;top:324px;width:31px;height:22px;font-size:10.5px;color:#000;"><div>TJ's</div><div>Web</div></div><div class="btn sf " style="left:42px;top:346px;width:31px;height:22px;font-size:10px;color:#000;"><div>Trade</div><div>Profile</div></div><div class="btn dn" style="left:42px;top:368px;width:31px;height:22px;"><div class="sf" style="font-size:11.5px;font-weight:bold;height:20px;flex-direction:row;letter-spacing:1.5px"><span style="color:#0000ff">X</span><span>T</span><span style="color:#ff0000">L</span></div></div><div class="btn sf " style="left:42px;top:390px;width:31px;height:22px;font-size:10.5px;color:#000;"><div>Kelt</div><div>Band</div></div><div class="abs" style="left:1250px;top:74px;width:30px;height:1px;background:#a0a0a0"></div><div class="abs" style="left:1250px;top:75px;width:30px;height:1px;background:#fff"></div><div class="abs" style="left:1250px;top:560px;width:30px;height:1px;background:#a0a0a0"></div><div class="abs" style="left:1250px;top:561px;width:30px;height:1px;background:#fff"></div><div class="btn dn" style="left:1254px;top:82px;width:23px;height:22px;"><svg style="position:absolute;left:0;top:0" width="21" height="19" viewBox="0 0 21 19" shape-rendering="crispEdges"><g stroke="#000" stroke-width="1.6" shape-rendering="auto"><line x1="4.500" y1="4" x2="18.500" y2="17"/><line x1="18.500" y1="4" x2="4.500" y2="17"/></g><rect x="11" y="10" width="1" height="1" fill="#fff"/></svg></div><div class="btn " style="left:1254px;top:104px;width:23px;height:22px;"><svg style="position:absolute;left:0;top:0" width="21" height="19" viewBox="0 0 21 19" shape-rendering="crispEdges"><g shape-rendering="auto"><polygon points="3.500,3.500 6.500,2.500 17,12.500 14.500,15.500 3.500,6" fill="#ffff00" stroke="#000" stroke-width="1.2"/><line x1="5" y1="4.500" x2="15.500" y2="14" stroke="#000" stroke-width="0.7"/><polygon points="3,2.500 7,2.500 3,6.500" fill="#000"/><polygon points="14.500,15.500 17,12.500 18.500,14.500 17,17" fill="#800000" stroke="#000" stroke-width="0.6"/></g></svg></div><div class="btn " style="left:1254px;top:126px;width:23px;height:22px;"><svg style="position:absolute;left:0;top:0" width="21" height="19" viewBox="0 0 21 19" shape-rendering="crispEdges"><g shape-rendering="auto" stroke-width="1"><line x1="2.400" y1="9" x2="18" y2="2.500" stroke="#0000ff"/><line x1="2.400" y1="12.300" x2="18" y2="5.700" stroke="#000"/><line x1="2.400" y1="15.500" x2="18" y2="9" stroke="#ff0000"/></g></svg></div><div class="btn " style="left:1254px;top:148px;width:23px;height:22px;"><svg style="position:absolute;left:0;top:0" width="21" height="19" viewBox="0 0 21 19" shape-rendering="crispEdges"><text x="3.3" y="9.2" font-size="8.3" textLength="10.6" lengthAdjust="spacingAndGlyphs" fill="#000" stroke="#000" stroke-width="0.25" shape-rendering="auto" style="font-family:'Liberation Sans',sans-serif;font-weight:normal">FIB</text><text x="3.3" y="17.3" font-size="8.8" textLength="13" lengthAdjust="spacingAndGlyphs" fill="#000" stroke="#000" stroke-width="0.25" shape-rendering="auto" style="font-family:'Liberation Sans',sans-serif;font-weight:normal">RET</text></svg></div><div class="btn " style="left:1254px;top:170px;width:23px;height:22px;"><svg style="position:absolute;left:0;top:0" width="21" height="19" viewBox="0 0 21 19" shape-rendering="crispEdges"><text x="3.3" y="9.2" font-size="8.3" textLength="10.6" lengthAdjust="spacingAndGlyphs" fill="#000" stroke="#000" stroke-width="0.25" shape-rendering="auto" style="font-family:'Liberation Sans',sans-serif;font-weight:normal">FIB</text><text x="3.3" y="17.3" font-size="8.8" textLength="13" lengthAdjust="spacingAndGlyphs" fill="#000" stroke="#000" stroke-width="0.25" shape-rendering="auto" style="font-family:'Liberation Sans',sans-serif;font-weight:normal">EXT</text></svg></div><div class="btn " style="left:1254px;top:192px;width:23px;height:22px;"><svg style="position:absolute;left:0;top:0" width="21" height="19" viewBox="0 0 21 19" shape-rendering="crispEdges"><text x="3.3" y="9.2" font-size="8.3" textLength="10.6" lengthAdjust="spacingAndGlyphs" fill="#000" stroke="#000" stroke-width="0.25" shape-rendering="auto" style="font-family:'Liberation Sans',sans-serif;font-weight:normal">FIB</text><text x="2.4" y="17.3" font-size="8.8" textLength="15.6" lengthAdjust="spacingAndGlyphs" fill="#000" stroke="#000" stroke-width="0.25" shape-rendering="auto" style="font-family:'Liberation Sans',sans-serif;font-weight:normal">TIME</text></svg></div><div class="btn " style="left:1254px;top:214px;width:23px;height:22px;"><svg style="position:absolute;left:0;top:0" width="21" height="19" viewBox="0 0 21 19" shape-rendering="crispEdges"><g shape-rendering="auto" fill="none"><path d="M3.300,10 A7.300,7.300 0 0 1 17.900,10" stroke="#ff0000" stroke-width="1.1"/><path d="M6.600,10 A4,4 0 0 1 14.600,10" stroke="#0000ff" stroke-width="1.1"/></g><text x="4.9" y="17" font-size="8.5" textLength="12.2" lengthAdjust="spacingAndGlyphs" fill="#000" stroke="#000" stroke-width="0.35" shape-rendering="auto" style="font-family:'Liberation Sans',sans-serif;font-weight:normal">FIB</text></svg></div><div class="btn " style="left:1254px;top:236px;width:23px;height:22px;"><svg style="position:absolute;left:0;top:0" width="21" height="19" viewBox="0 0 21 19" shape-rendering="crispEdges"><g shape-rendering="auto" stroke-width="1"><line x1="2.400" y1="9.300" x2="9.800" y2="2.400" stroke="#008000"/><line x1="2.400" y1="9.300" x2="18" y2="2.400" stroke="#0000ff"/><line x1="2.400" y1="9.300" x2="18" y2="6.500" stroke="#ff0000"/><line x1="2.400" y1="9.300" x2="18" y2="9.300" stroke="#000"/><line x1="2.400" y1="9.300" x2="18" y2="12.200" stroke="#ff0000"/><line x1="2.400" y1="9.300" x2="18" y2="16.300" stroke="#0000ff"/><line x1="2.400" y1="9.300" x2="9.800" y2="16.300" stroke="#008000"/></g></svg></div><div class="btn " style="left:1254px;top:258px;width:23px;height:22px;"><svg style="position:absolute;left:0;top:0" width="21" height="19" viewBox="0 0 21 19" shape-rendering="crispEdges"><rect x="5" y="3" width="13" height="13" fill="#000"/><rect x="6" y="4" width="11" height="11" fill="#fff"/><g fill="#909090"><rect x="9" y="4" width="1" height="11"/><rect x="13" y="4" width="1" height="11"/><rect x="6" y="7" width="11" height="1"/><rect x="6" y="11" width="11" height="1"/></g></svg></div><div class="btn " style="left:1254px;top:280px;width:23px;height:22px;"><svg style="position:absolute;left:0;top:0" width="21" height="19" viewBox="0 0 21 19" shape-rendering="crispEdges"><ellipse cx="10" cy="6.600" rx="7.400" ry="4" fill="#00ffff" stroke="#ff0000" stroke-width="1.1" shape-rendering="auto"/><text x="2.4" y="17.2" font-size="6.5" textLength="15.6" lengthAdjust="spacingAndGlyphs" fill="#000" stroke="#000" stroke-width="0" shape-rendering="auto" style="font-family:'Liberation Sans',sans-serif;font-weight:bold">ELIPS</text></svg></div><div class="btn " style="left:1254px;top:302px;width:23px;height:22px;"><svg style="position:absolute;left:0;top:0" width="21" height="19" viewBox="0 0 21 19" shape-rendering="crispEdges"><g shape-rendering="auto" stroke-width="1"><line x1="7.500" y1="15.700" x2="15.700" y2="7.300" stroke="#000080"/><line x1="10.500" y1="2.200" x2="15.700" y2="7.300" stroke="#000080"/><line x1="8.300" y1="4.500" x2="12.700" y2="8.500" stroke="#008000"/><line x1="6.500" y1="6.300" x2="16.700" y2="16.500" stroke="#000080"/><line x1="4.400" y1="8.300" x2="8.700" y2="12.700" stroke="#800000"/><line x1="2.400" y1="10.300" x2="7.500" y2="15.700" stroke="#000080"/></g></svg></div><div class="btn " style="left:1254px;top:324px;width:23px;height:22px;"><svg style="position:absolute;left:0;top:0" width="21" height="19" viewBox="0 0 21 19" shape-rendering="crispEdges"><text x="2.4" y="14.3" font-size="11.5" textLength="15.6" lengthAdjust="spacingAndGlyphs" fill="#000" stroke="#000" stroke-width="0.3" shape-rendering="auto" style="font-family:'Liberation Sans',sans-serif;font-weight:bold">PTI</text></svg></div><div class="btn " style="left:1254px;top:346px;width:23px;height:22px;"><svg style="position:absolute;left:0;top:0" width="21" height="19" viewBox="0 0 21 19" shape-rendering="crispEdges"><rect x="5" y="2" width="13" height="12" fill="#0000ff"/><g fill="#fff"><rect x="7" y="4" width="3" height="2"/><rect x="11" y="4" width="2" height="2"/><rect x="14" y="4" width="2" height="2"/><rect x="7" y="7" width="3" height="2"/><rect x="11" y="7" width="2" height="2"/><rect x="14" y="7" width="2" height="2"/><rect x="7" y="10" width="3" height="2"/><rect x="11" y="10" width="2" height="2"/><rect x="14" y="10" width="2" height="2"/></g><rect x="6" y="15" width="12" height="1" fill="#0000ff"/></svg></div><div class="btn " style="left:1254px;top:368px;width:23px;height:22px;"><svg style="position:absolute;left:0;top:0" width="21" height="19" viewBox="0 0 21 19" shape-rendering="crispEdges"><rect x="3" y="3" width="15" height="3" fill="#ff00ff"/><rect x="3" y="6" width="15" height="3" fill="#00ffff"/><text x="3.3" y="16.8" font-size="8.5" textLength="14.7" lengthAdjust="spacingAndGlyphs" fill="#000" stroke="#000" stroke-width="0.35" shape-rendering="auto" style="font-family:'Liberation Sans',sans-serif;font-weight:normal">MOB</text></svg></div><div class="btn " style="left:1254px;top:390px;width:23px;height:22px;"><svg style="position:absolute;left:0;top:0" width="21" height="19" viewBox="0 0 21 19" shape-rendering="crispEdges"><g shape-rendering="auto"><path d="M8,5 C8,2.500 11,2 12.500,3.500 C14.500,2 17.500,3.500 17,6 C19,7.500 18,11 15.500,11 C14.500,13.500 11,13.500 10,12 C7.500,12.500 6,10 7.500,8.500 C6,7.500 6.500,5 8,5 Z" fill="#fff" stroke="#000" stroke-width="0.9"/><circle cx="6.500" cy="13" r="1.200" fill="#fff" stroke="#000" stroke-width="0.7"/><circle cx="4.300" cy="14.700" r="0.900" fill="#fff" stroke="#000" stroke-width="0.7"/><circle cx="2.800" cy="15.800" r="0.600" fill="#fff" stroke="#000" stroke-width="0.6"/><path d="M11,6 L13,4.500 L13,10.500 M11,10.500 L15,10.500" stroke="#008000" stroke-width="1.800" fill="none"/></g></svg></div><div class="btn " style="left:1254px;top:412px;width:23px;height:22px;"><svg style="position:absolute;left:0;top:0" width="21" height="19" viewBox="0 0 21 19" shape-rendering="crispEdges"><text x="3.6" y="15" font-size="17" fill="#000" shape-rendering="auto" style="font-family:'Liberation Serif',serif;font-weight:bold">A</text></svg></div><div class="btn " style="left:1254px;top:434px;width:23px;height:22px;"><svg style="position:absolute;left:0;top:0" width="21" height="19" viewBox="0 0 21 19" shape-rendering="crispEdges"><g shape-rendering="auto"><circle cx="8.300" cy="8.300" r="5" fill="#fff" stroke="#000" stroke-width="1.200"/><line x1="12" y1="12" x2="17" y2="16.500" stroke="#000" stroke-width="2"/><line x1="5.800" y1="8.300" x2="10.800" y2="8.300" stroke="#000"/><line x1="8.300" y1="5.800" x2="8.300" y2="10.800" stroke="#000"/></g></svg></div><div class="btn " style="left:1254px;top:462px;width:23px;height:22px;"><svg style="position:absolute;left:0;top:0" width="21" height="19" viewBox="0 0 21 19" shape-rendering="crispEdges"><g shape-rendering="auto"><polygon points="4.500,6.500 8,3 18.500,13 15,16.500" fill="#fff" stroke="#808080" stroke-width="0.6"/><polygon points="4.500,6.500 8,3 12,6.800 8.500,10.300" fill="#800000"/><polygon points="12,13.500 15.500,10 18.500,13 15,16.500" fill="#ffff00" stroke="#000" stroke-width="0.6"/><g stroke="#c0c0c0" stroke-width="0.7"><line x1="10" y1="11" x2="13" y2="8"/><line x1="11.500" y1="12.500" x2="14.500" y2="9.500"/></g></g></svg></div><div class="btn " style="left:1254px;top:484px;width:23px;height:22px;"><svg style="position:absolute;left:0;top:0" width="21" height="19" viewBox="0 0 21 19" shape-rendering="crispEdges"><rect x="2.500" y="1.500" width="15" height="14" fill="#fff" stroke="#000" stroke-width="1"/><g shape-rendering="auto" stroke="#000" stroke-width="0.9" fill="none"><path d="M4,3 L8,7 M4,3 L4,5.500 M4,3 L6.500,3"/><path d="M16,3 L12,7 M16,3 L16,5.500 M16,3 L13.500,3"/><path d="M4,14 L8,10 M4,14 L4,11.500 M4,14 L6.500,14"/><path d="M16,14 L12,10 M16,14 L16,11.500 M16,14 L13.500,14"/><path d="M10,2.500 L10,6 M8.500,4 L10,2.500 L11.500,4 M10,14.500 L10,11 M8.500,13 L10,14.500 L11.500,13 M3.500,8.500 L7,8.500 M5,7 L3.500,8.500 L5,10 M16.500,8.500 L13,8.500 M15,7 L16.500,8.500 L15,10"/></g></svg></div><div class="btn " style="left:1254px;top:506px;width:23px;height:22px;"><svg style="position:absolute;left:0;top:0" width="21" height="19" viewBox="0 0 21 19" shape-rendering="crispEdges"><rect x="2.500" y="1.500" width="9" height="11" fill="#fff" stroke="#000" stroke-width="1"/><rect x="8.500" y="4.500" width="9" height="11" fill="#fff" stroke="#000" stroke-width="1"/><g shape-rendering="auto" stroke="#000" stroke-width="0.8" fill="none"><path d="M4,4.500 L7,3.500 M4,7 L7,6 M4,9.500 L7,8.500"/><path d="M10.500,8 L12,7 L14,8 L16,7 M10.500,10.500 L12,9.500 L14,10.500 L16,9.500 M10.500,13 L12,12 L14,13 L16,12"/></g></svg></div><div class="btn dn" style="left:1254px;top:532px;width:23px;height:22px;"><svg style="position:absolute;left:0;top:0" width="21" height="19" viewBox="0 0 21 19" shape-rendering="crispEdges"><path d="M6,3.500 L6,12 A5.500,5.500 0 0 0 17,12 L17,3.500 L13.500,3.500 L13.500,12 A2,2 0 0 1 9.500,12 L9.500,3.500 Z" fill="#ff0000" shape-rendering="auto"/><rect x="6" y="3" width="4" height="3" fill="#000"/><rect x="13" y="3" width="4" height="3" fill="#000"/></svg></div><svg width="1280" height="846" viewBox="0 0 1280 846"><g shape-rendering="crispEdges"><rect x="76" y="74" width="1174" height="1" fill="#a0a0a0"/><rect x="77" y="75" width="1172" height="18" fill="#696969"/><rect x="78" y="76" width="1171" height="18" fill="#fff"/><rect x="78" y="76" width="1170" height="16" fill="#ffffe1"/><rect x="76" y="96" width="1173" height="543" fill="#696969"/><rect x="78" y="98" width="1171" height="544" fill="#fff"/><rect x="76" y="638" width="1173" height="2" fill="#fff"/><rect x="76" y="640" width="1173" height="2" fill="#f0f0f0"/><rect x="78" y="98" width="1110" height="540" fill="#fff"/><rect x="1188" y="98" width="61" height="540" fill="#000"/><rect x="1189" y="98" width="59" height="539" fill="#f0f0f0"/><rect x="76" y="642" width="1173" height="184" fill="#696969"/><rect x="78" y="644" width="1171" height="182" fill="#f0f0f0"/><rect x="78" y="644" width="1110" height="163" fill="#fff"/><rect x="175" y="807" width="1013" height="1" fill="#000"/><rect x="1187" y="807" width="2" height="17" fill="#000"/><rect x="1188" y="644" width="61" height="180" fill="#000"/><rect x="1189" y="644" width="59" height="179" fill="#f0f0f0"/><rect x="76" y="824" width="1173" height="2" fill="#fff"/><rect x="76" y="826" width="1173" height="2" fill="#f0f0f0"/><rect x="76" y="828" width="1173" height="18" fill="#696969"/><rect x="78" y="830" width="1171" height="16" fill="#f0f0f0"/><rect x="1188" y="830" width="61" height="16" fill="#ffffe1"/><rect x="1249" y="828" width="1" height="18" fill="#fff"/></g><g shape-rendering="crispEdges" fill="#000"><rect x="1190" y="634" width="1" height="1"/><rect x="1190" y="630" width="1" height="1"/><rect x="1190" y="627" width="1" height="1"/><rect x="1190" y="623" width="3" height="1"/><rect x="1190" y="619" width="1" height="1"/><rect x="1190" y="615" width="1" height="1"/><rect x="1190" y="611" width="1" height="1"/><rect x="1190" y="608" width="1" height="1"/><rect x="1190" y="604" width="6" height="1"/><rect x="1190" y="600" width="1" height="1"/><rect x="1190" y="596" width="1" height="1"/><rect x="1190" y="593" width="1" height="1"/><rect x="1190" y="589" width="1" height="1"/><rect x="1190" y="585" width="3" height="1"/><rect x="1190" y="581" width="1" height="1"/><rect x="1190" y="577" width="1" height="1"/><rect x="1190" y="574" width="1" height="1"/><rect x="1190" y="570" width="1" height="1"/><rect x="1190" y="566" width="6" height="1"/><rect x="1190" y="562" width="1" height="1"/><rect x="1190" y="559" width="1" height="1"/><rect x="1190" y="555" width="1" height="1"/><rect x="1190" y="551" width="1" height="1"/><rect x="1190" y="547" width="3" height="1"/><rect x="1190" y="543" width="1" height="1"/><rect x="1190" y="540" width="1" height="1"/><rect x="1190" y="536" width="1" height="1"/><rect x="1190" y="532" width="1" height="1"/><rect x="1190" y="528" width="6" height="1"/><rect x="1190" y="524" width="1" height="1"/><rect x="1190" y="521" width="1" height="1"/><rect x="1190" y="517" width="1" height="1"/><rect x="1190" y="513" width="1" height="1"/><rect x="1190" y="509" width="3" height="1"/><rect x="1190" y="506" width="1" height="1"/><rect x="1190" y="502" width="1" height="1"/><rect x="1190" y="498" width="1" height="1"/><rect x="1190" y="494" width="1" height="1"/><rect x="1190" y="490" width="6" height="1"/><rect x="1190" y="487" width="1" height="1"/><rect x="1190" y="483" width="1" height="1"/><rect x="1190" y="479" width="1" height="1"/><rect x="1190" y="475" width="1" height="1"/><rect x="1190" y="471" width="3" height="1"/><rect x="1190" y="468" width="1" height="1"/><rect x="1190" y="464" width="1" height="1"/><rect x="1190" y="460" width="1" height="1"/><rect x="1190" y="456" width="1" height="1"/><rect x="1190" y="453" width="6" height="1"/><rect x="1190" y="449" width="1" height="1"/><rect x="1190" y="445" width="1" height="1"/><rect x="1190" y="441" width="1" height="1"/><rect x="1190" y="437" width="1" height="1"/><rect x="1190" y="434" width="3" height="1"/><rect x="1190" y="430" width="1" height="1"/><rect x="1190" y="426" width="1" height="1"/><rect x="1190" y="422" width="1" height="1"/><rect x="1190" y="419" width="1" height="1"/><rect x="1190" y="415" width="6" height="1"/><rect x="1190" y="411" width="1" height="1"/><rect x="1190" y="407" width="1" height="1"/><rect x="1190" y="403" width="1" height="1"/><rect x="1190" y="400" width="1" height="1"/><rect x="1190" y="396" width="3" height="1"/><rect x="1190" y="392" width="1" height="1"/><rect x="1190" y="388" width="1" height="1"/><rect x="1190" y="384" width="1" height="1"/><rect x="1190" y="381" width="1" height="1"/><rect x="1190" y="377" width="6" height="1"/><rect x="1190" y="373" width="1" height="1"/><rect x="1190" y="369" width="1" height="1"/><rect x="1190" y="366" width="1" height="1"/><rect x="1190" y="362" width="1" height="1"/><rect x="1190" y="358" width="3" height="1"/><rect x="1190" y="354" width="1" height="1"/><rect x="1190" y="350" width="1" height="1"/><rect x="1190" y="347" width="1" height="1"/><rect x="1190" y="343" width="1" height="1"/><rect x="1190" y="339" width="6" height="1"/><rect x="1190" y="335" width="1" height="1"/><rect x="1190" y="331" width="1" height="1"/><rect x="1190" y="328" width="1" height="1"/><rect x="1190" y="324" width="1" height="1"/><rect x="1190" y="320" width="3" height="1"/><rect x="1190" y="316" width="1" height="1"/><rect x="1190" y="313" width="1" height="1"/><rect x="1190" y="309" width="1" height="1"/><rect x="1190" y="305" width="1" height="1"/><rect x="1190" y="301" width="6" height="1"/><rect x="1190" y="297" width="1" height="1"/><rect x="1190" y="294" width="1" height="1"/><rect x="1190" y="290" width="1" height="1"/><rect x="1190" y="286" width="1" height="1"/><rect x="1190" y="282" width="3" height="1"/><rect x="1190" y="278" width="1" height="1"/><rect x="1190" y="275" width="1" height="1"/><rect x="1190" y="271" width="1" height="1"/><rect x="1190" y="267" width="1" height="1"/><rect x="1190" y="263" width="6" height="1"/><rect x="1190" y="260" width="1" height="1"/><rect x="1190" y="256" width="1" height="1"/><rect x="1190" y="252" width="1" height="1"/><rect x="1190" y="248" width="1" height="1"/><rect x="1190" y="244" width="3" height="1"/><rect x="1190" y="241" width="1" height="1"/><rect x="1190" y="237" width="1" height="1"/><rect x="1190" y="233" width="1" height="1"/><rect x="1190" y="229" width="1" height="1"/><rect x="1190" y="226" width="6" height="1"/><rect x="1190" y="222" width="1" height="1"/><rect x="1190" y="218" width="1" height="1"/><rect x="1190" y="214" width="1" height="1"/><rect x="1190" y="210" width="1" height="1"/><rect x="1190" y="207" width="3" height="1"/><rect x="1190" y="203" width="1" height="1"/><rect x="1190" y="199" width="1" height="1"/><rect x="1190" y="195" width="1" height="1"/><rect x="1190" y="191" width="1" height="1"/><rect x="1190" y="188" width="6" height="1"/><rect x="1190" y="184" width="1" height="1"/><rect x="1190" y="180" width="1" height="1"/><rect x="1190" y="176" width="1" height="1"/><rect x="1190" y="173" width="1" height="1"/><rect x="1190" y="169" width="3" height="1"/><rect x="1190" y="165" width="1" height="1"/><rect x="1190" y="161" width="1" height="1"/><rect x="1190" y="157" width="1" height="1"/><rect x="1190" y="154" width="1" height="1"/><rect x="1190" y="150" width="6" height="1"/><rect x="1190" y="146" width="1" height="1"/><rect x="1190" y="142" width="1" height="1"/><rect x="1190" y="138" width="1" height="1"/><rect x="1190" y="135" width="1" height="1"/><rect x="1190" y="131" width="3" height="1"/><rect x="1190" y="127" width="1" height="1"/><rect x="1190" y="123" width="1" height="1"/><rect x="1190" y="120" width="1" height="1"/><rect x="1190" y="116" width="1" height="1"/><rect x="1190" y="112" width="6" height="1"/><rect x="1190" y="108" width="1" height="1"/><rect x="1190" y="104" width="1" height="1"/><rect x="1190" y="101" width="1" height="1"/></g><text x="1197.4" y="609" font-size="14" fill="#000" text-anchor="start" textLength="45.4" lengthAdjust="spacingAndGlyphs" style="font-family:'Liberation Sans',sans-serif;font-weight:bold;" >5600.00</text><text x="1197.4" y="571" font-size="14" fill="#000" text-anchor="start" textLength="45.4" lengthAdjust="spacingAndGlyphs" style="font-family:'Liberation Sans',sans-serif;font-weight:bold;" >5700.00</text><text x="1197.4" y="533" font-size="14" fill="#000" text-anchor="start" textLength="45.4" lengthAdjust="spacingAndGlyphs" style="font-family:'Liberation Sans',sans-serif;font-weight:bold;" >5800.00</text><text x="1197.4" y="495" font-size="14" fill="#000" text-anchor="start" textLength="45.4" lengthAdjust="spacingAndGlyphs" style="font-family:'Liberation Sans',sans-serif;font-weight:bold;" >5900.00</text><text x="1197.4" y="458" font-size="14" fill="#000" text-anchor="start" textLength="45.4" lengthAdjust="spacingAndGlyphs" style="font-family:'Liberation Sans',sans-serif;font-weight:bold;" >6000.00</text><text x="1197.4" y="420" font-size="14" fill="#000" text-anchor="start" textLength="45.4" lengthAdjust="spacingAndGlyphs" style="font-family:'Liberation Sans',sans-serif;font-weight:bold;" >6100.00</text><text x="1197.4" y="382" font-size="14" fill="#000" text-anchor="start" textLength="45.4" lengthAdjust="spacingAndGlyphs" style="font-family:'Liberation Sans',sans-serif;font-weight:bold;" >6200.00</text><text x="1197.4" y="344" font-size="14" fill="#000" text-anchor="start" textLength="45.4" lengthAdjust="spacingAndGlyphs" style="font-family:'Liberation Sans',sans-serif;font-weight:bold;" >6300.00</text><text x="1197.4" y="306" font-size="14" fill="#000" text-anchor="start" textLength="45.4" lengthAdjust="spacingAndGlyphs" style="font-family:'Liberation Sans',sans-serif;font-weight:bold;" >6400.00</text><text x="1197.4" y="268" font-size="14" fill="#000" text-anchor="start" textLength="45.4" lengthAdjust="spacingAndGlyphs" style="font-family:'Liberation Sans',sans-serif;font-weight:bold;" >6500.00</text><text x="1197.4" y="231" font-size="14" fill="#000" text-anchor="start" textLength="45.4" lengthAdjust="spacingAndGlyphs" style="font-family:'Liberation Sans',sans-serif;font-weight:bold;" >6600.00</text><text x="1197.4" y="193" font-size="14" fill="#000" text-anchor="start" textLength="45.4" lengthAdjust="spacingAndGlyphs" style="font-family:'Liberation Sans',sans-serif;font-weight:bold;" >6700.00</text><text x="1197.4" y="155" font-size="14" fill="#000" text-anchor="start" textLength="45.4" lengthAdjust="spacingAndGlyphs" style="font-family:'Liberation Sans',sans-serif;font-weight:bold;" >6800.00</text><text x="1197.4" y="117" font-size="14" fill="#000" text-anchor="start" textLength="45.4" lengthAdjust="spacingAndGlyphs" style="font-family:'Liberation Sans',sans-serif;font-weight:bold;" >6900.00</text><g shape-rendering="crispEdges"><rect x="1189" y="212" width="59" height="1" fill="#000"/><rect x="1189" y="227" width="59" height="1" fill="#000"/><rect x="1189" y="213" width="59" height="14" fill="#ffffe1"/></g><text x="1195.5" y="225" font-size="14" fill="#000" text-anchor="start" textLength="45.4" lengthAdjust="spacingAndGlyphs" style="font-family:'Liberation Sans',sans-serif;font-weight:bold;" >6612.96</text><g shape-rendering="crispEdges"><rect x="1224" y="621" width="24" height="16" fill="#000"/><rect x="1225" y="622" width="23" height="15" fill="#c0c0c0"/><rect x="1226" y="623" width="4" height="2" fill="#808080"/></g><g fill="none" stroke="#000" stroke-width="0.9"><path d="M1227,626 C1230,623 1233,624 1236,626 C1239,624 1243,623 1246,626"/><polygon points="1226.500,634 1230,626.500 1233.500,634" fill="#f0f0f0"/><polygon points="1239.500,634 1243,626.500 1246.500,634" fill="#f0f0f0"/></g><rect x="1235" y="628" width="3" height="8" fill="#ffff00" stroke="#000" stroke-width="0.6"/><polygon points="1232,625.500 1236.500,629.500 1241,625.500 1239,625.500 1236.500,628 1234,625.500" fill="#ffff00"/><rect x="1227" y="633" width="6" height="1.500" fill="#ffff00"/><rect x="1240" y="633" width="6" height="1.500" fill="#ffff00"/><g shape-rendering="crispEdges" fill="#000"><rect x="1190" y="802" width="1" height="1"/><rect x="1190" y="799" width="6" height="1"/><rect x="1190" y="796" width="1" height="1"/><rect x="1190" y="792" width="1" height="1"/><rect x="1190" y="789" width="1" height="1"/><rect x="1190" y="786" width="1" height="1"/><rect x="1190" y="782" width="3" height="1"/><rect x="1190" y="779" width="1" height="1"/><rect x="1190" y="776" width="1" height="1"/><rect x="1190" y="773" width="1" height="1"/><rect x="1190" y="769" width="1" height="1"/><rect x="1190" y="766" width="6" height="1"/><rect x="1190" y="763" width="1" height="1"/><rect x="1190" y="759" width="1" height="1"/><rect x="1190" y="756" width="1" height="1"/><rect x="1190" y="753" width="1" height="1"/><rect x="1190" y="750" width="3" height="1"/><rect x="1190" y="746" width="1" height="1"/><rect x="1190" y="743" width="1" height="1"/><rect x="1190" y="740" width="1" height="1"/><rect x="1190" y="736" width="1" height="1"/><rect x="1190" y="733" width="6" height="1"/><rect x="1190" y="730" width="1" height="1"/><rect x="1190" y="726" width="1" height="1"/><rect x="1190" y="723" width="1" height="1"/><rect x="1190" y="720" width="1" height="1"/><rect x="1190" y="716" width="3" height="1"/><rect x="1190" y="713" width="1" height="1"/><rect x="1190" y="710" width="1" height="1"/><rect x="1190" y="707" width="1" height="1"/><rect x="1190" y="703" width="1" height="1"/><rect x="1190" y="700" width="6" height="1"/><rect x="1190" y="697" width="1" height="1"/><rect x="1190" y="693" width="1" height="1"/><rect x="1190" y="690" width="1" height="1"/><rect x="1190" y="687" width="1" height="1"/><rect x="1190" y="684" width="3" height="1"/><rect x="1190" y="680" width="1" height="1"/><rect x="1190" y="677" width="1" height="1"/><rect x="1190" y="674" width="1" height="1"/><rect x="1190" y="670" width="1" height="1"/><rect x="1190" y="667" width="6" height="1"/><rect x="1190" y="664" width="1" height="1"/><rect x="1190" y="660" width="1" height="1"/><rect x="1190" y="657" width="1" height="1"/><rect x="1190" y="654" width="1" height="1"/><rect x="1190" y="650" width="3" height="1"/><rect x="1190" y="647" width="1" height="1"/></g><text x="1197.4" y="804" font-size="14" fill="#000" text-anchor="start" textLength="7" lengthAdjust="spacingAndGlyphs" style="font-family:'Liberation Sans',sans-serif;font-weight:bold;" >0</text><text x="1197.4" y="771" font-size="14" fill="#000" text-anchor="start" textLength="14" lengthAdjust="spacingAndGlyphs" style="font-family:'Liberation Sans',sans-serif;font-weight:bold;" >50</text><text x="1197.4" y="738" font-size="14" fill="#000" text-anchor="start" textLength="21" lengthAdjust="spacingAndGlyphs" style="font-family:'Liberation Sans',sans-serif;font-weight:bold;" >100</text><text x="1197.4" y="705" font-size="14" fill="#000" text-anchor="start" textLength="21" lengthAdjust="spacingAndGlyphs" style="font-family:'Liberation Sans',sans-serif;font-weight:bold;" >150</text><text x="1197.4" y="672" font-size="14" fill="#000" text-anchor="start" textLength="21" lengthAdjust="spacingAndGlyphs" style="font-family:'Liberation Sans',sans-serif;font-weight:bold;" >200</text><g shape-rendering="crispEdges"><rect x="1189" y="742" width="59" height="1" fill="#000"/><rect x="1189" y="757" width="59" height="1" fill="#000"/><rect x="1189" y="743" width="59" height="14" fill="#ffffe1"/></g><text x="1211" y="755" font-size="14" fill="#000" text-anchor="start" textLength="14" lengthAdjust="spacingAndGlyphs" style="font-family:'Liberation Sans',sans-serif;font-weight:bold;" >75</text><text x="82.8" y="89" font-size="14" fill="#000" text-anchor="start" textLength="49.1" lengthAdjust="spacingAndGlyphs" style="font-family:'Liberation Sans',sans-serif;font-weight:bold;" >10/22/25</text><text x="493" y="89" font-size="14" fill="#000" text-anchor="start" textLength="13.2" lengthAdjust="spacingAndGlyphs" style="font-family:'Liberation Sans',sans-serif;font-weight:bold;" >O:</text><text x="512" y="89" font-size="14" fill="#000" text-anchor="start" textLength="44.8" lengthAdjust="spacingAndGlyphs" style="font-family:'Liberation Sans',sans-serif;font-weight:bold;" >6741.34</text><text x="569.5" y="89" font-size="14" fill="#0000ff" text-anchor="start" textLength="11.8" lengthAdjust="spacingAndGlyphs" style="font-family:'Liberation Sans',sans-serif;font-weight:bold;" >H:</text><text x="587.5" y="89" font-size="14" fill="#000" text-anchor="start" textLength="45" lengthAdjust="spacingAndGlyphs" style="font-family:'Liberation Sans',sans-serif;font-weight:bold;" >6741.75</text><text x="645.5" y="89" font-size="14" fill="#ff0000" text-anchor="start" textLength="10.8" lengthAdjust="spacingAndGlyphs" style="font-family:'Liberation Sans',sans-serif;font-weight:bold;" >L:</text><text x="663.7" y="89" font-size="14" fill="#000" text-anchor="start" textLength="45" lengthAdjust="spacingAndGlyphs" style="font-family:'Liberation Sans',sans-serif;font-weight:bold;" >6655.69</text><text x="721.2" y="89" font-size="14" fill="#000" text-anchor="start" textLength="11.8" lengthAdjust="spacingAndGlyphs" style="font-family:'Liberation Sans',sans-serif;font-weight:bold;" >C:</text><text x="740" y="89" font-size="14" fill="#000" text-anchor="start" textLength="44.5" lengthAdjust="spacingAndGlyphs" style="font-family:'Liberation Sans',sans-serif;font-weight:bold;" >6699.40</text><text x="1210" y="89" font-size="14" fill="#ff0000" text-anchor="start" textLength="35" lengthAdjust="spacingAndGlyphs" style="font-family:'Liberation Sans',sans-serif;font-weight:bold;" >-35.95</text><g shape-rendering="crispEdges"><rect x="78" y="368" width="392" height="1" fill="#c0c0c0"/><rect x="78" y="373" width="263" height="1" fill="#c0c0c0"/><rect x="78" y="379" width="248" height="1" fill="#c0c0c0"/><rect x="78" y="386" width="220" height="1" fill="#c0c0c0"/><rect x="78" y="392" width="171" height="1" fill="#c0c0c0"/><rect x="78" y="399" width="136" height="1" fill="#c0c0c0"/><rect x="78" y="405" width="52" height="1" fill="#c0c0c0"/><rect x="78" y="411" width="24" height="1" fill="#c0c0c0"/><rect x="248" y="429" width="78" height="1" fill="#c0c0c0"/><rect x="262" y="433" width="64" height="1" fill="#c0c0c0"/><rect x="312" y="439" width="14" height="1" fill="#c0c0c0"/><rect x="325" y="533" width="127" height="1" fill="#c0c0c0"/><rect x="339" y="429" width="78" height="1" fill="#c0c0c0"/><rect x="320" y="434" width="6" height="1" fill="#c0c0c0"/><rect x="340" y="434" width="62" height="1" fill="#c0c0c0"/><rect x="320" y="439" width="6" height="1" fill="#c0c0c0"/><rect x="340" y="439" width="14" height="1" fill="#c0c0c0"/><rect x="402" y="401" width="21" height="1" fill="#c0c0c0"/><rect x="402" y="409" width="28" height="1" fill="#c0c0c0"/><rect x="430" y="397" width="21" height="1" fill="#c0c0c0"/><rect x="437" y="405" width="28" height="1" fill="#c0c0c0"/><rect x="444" y="386" width="35" height="1" fill="#c0c0c0"/><rect x="480" y="382" width="34" height="1" fill="#c0c0c0"/><rect x="549" y="359" width="64" height="1" fill="#c0c0c0"/><rect x="599" y="355" width="49" height="1" fill="#c0c0c0"/><rect x="584" y="362" width="15" height="1" fill="#c0c0c0"/><rect x="584" y="323" width="91" height="1" fill="#c0c0c0"/><rect x="633" y="328" width="42" height="1" fill="#c0c0c0"/><rect x="654" y="336" width="21" height="1" fill="#c0c0c0"/><rect x="682" y="319" width="91" height="1" fill="#c0c0c0"/><rect x="682" y="328" width="43" height="1" fill="#c0c0c0"/><rect x="682" y="336" width="21" height="1" fill="#c0c0c0"/><rect x="465" y="533" width="126" height="1" fill="#c0c0c0"/><rect x="403" y="538" width="49" height="1" fill="#c0c0c0"/><rect x="465" y="538" width="50" height="1" fill="#c0c0c0"/><rect x="331" y="437" width="2" height="43" fill="#808080"/><rect x="422" y="399" width="2" height="43" fill="#808080"/><rect x="430" y="406" width="1" height="37" fill="#c0c0c0"/><rect x="478" y="385" width="2" height="43" fill="#808080"/><rect x="597" y="363" width="2" height="41" fill="#808080"/><rect x="673" y="336" width="2" height="42" fill="#808080"/><rect x="457" y="535" width="2" height="43" fill="#808080"/></g><g shape-rendering="crispEdges"><g stroke="#ff00ff" stroke-width="1" fill="none"><line x1="143.5" y1="308" x2="143.5" y2="333"/><polyline points="137.5,321 143.5,333 149.5,321"/></g><g stroke="#008080" stroke-width="1" fill="none"><line x1="234.5" y1="306" x2="234.5" y2="331"/><polyline points="228.5,318 234.5,331 240.5,318"/></g><g stroke="#008080" stroke-width="1" fill="none"><line x1="325.5" y1="245" x2="325.5" y2="270.5"/><polyline points="319.5,256.5 325.5,270.5 331.5,256.5"/></g><g stroke="#ff00ff" stroke-width="1" fill="none"><line x1="430.5" y1="235" x2="430.5" y2="261"/><polyline points="424.5,247 430.5,261 436.5,247"/></g><g stroke="#008080" stroke-width="1" fill="none"><line x1="486.5" y1="216" x2="486.5" y2="242"/><polyline points="480.5,228 486.5,242 492.5,228"/></g><g stroke="#ff00ff" stroke-width="1" fill="none"><line x1="535.5" y1="190" x2="535.5" y2="216"/><polyline points="529.5,202 535.5,216 541.5,202"/></g><g stroke="#ff00ff" stroke-width="1" fill="none"><line x1="647.5" y1="113" x2="647.5" y2="138.5"/><polyline points="641.5,124.5 647.5,138.5 653.5,124.5"/></g><g stroke="#ff00ff" stroke-width="1" fill="none"><line x1="780.5" y1="103" x2="780.5" y2="128"/><polyline points="774.5,115 780.5,128 786.5,115"/></g><g stroke="#008080" stroke-width="1" fill="none"><line x1="843.5" y1="110" x2="843.5" y2="135"/><polyline points="837.5,122 843.5,135 849.5,122"/></g><g stroke="#ff0000" stroke-width="2" fill="none"><line x1="675.5" y1="126" x2="675.5" y2="159"/><polyline points="666.0,139 675.5,159 685.0,139"/></g><g stroke="#808080" stroke-width="2" fill="none"><line x1="731.5" y1="123" x2="731.5" y2="155.5"/><polyline points="722.0,136.0 731.5,155.5 741.0,136.0"/></g><g stroke="#ff0000" stroke-width="1" fill="none"><line x1="689.5" y1="143.5" x2="689.5" y2="176.5"/><polyline points="683.5,163.0 689.5,176.5 695.5,163.0"/></g><g stroke="#ff0000" stroke-width="1" fill="none"><line x1="696.5" y1="134" x2="696.5" y2="167.5"/><polyline points="690.5,154.0 696.5,167.5 702.5,154.0"/></g><g stroke="#ff0000" stroke-width="1" fill="none"><line x1="703.5" y1="145" x2="703.5" y2="179"/><polyline points="697.5,165.5 703.5,179 709.5,165.5"/></g><g stroke="#ff0000" stroke-width="1" fill="none"><line x1="710.5" y1="141" x2="710.5" y2="174.5"/><polyline points="704.5,161.0 710.5,174.5 716.5,161.0"/></g><g stroke="#ff0000" stroke-width="1" fill="none"><line x1="731.5" y1="133.5" x2="731.5" y2="169"/><polyline points="725.5,155.5 731.5,169 737.5,155.5"/></g><g stroke="#808080" stroke-width="2" fill="none"><line x1="682" y1="291.5" x2="682" y2="259.5"/><polyline points="673,280.0 682,259.5 691,280.0"/></g><g stroke="#00ff00" stroke-width="2" fill="none"><line x1="696.5" y1="271.5" x2="696.5" y2="235"/><polyline points="687.5,256 696.5,235 705.5,256"/></g><g stroke="#00ff00" stroke-width="2" fill="none"><line x1="710.5" y1="281.5" x2="710.5" y2="245.5"/><polyline points="701.0,266.5 710.5,245.5 720.0,266.5"/></g></g><g shape-rendering="crispEdges"><polyline points="80.5,408.0 103.4,403.5 126.0,397.9 140.2,390.8 154.4,382.3 170.0,371.6 192.5,353.2 206.7,342.5 221.0,331.5 235.0,322.0 249.3,312.0 263.5,301.4 290.0,278.3 304.2,268.4 318.4,262.7 332.6,261.3 346.7,257.7 361.0,254.2 375.1,250.2 389.3,243.5 397.8,240.0 430.0,231.1 451.3,227.6 472.6,216.2 493.8,207.7 515.1,200.6 536.4,194.3 550.6,190.0 580.0,168.9 594.2,161.1 611.2,154.0 622.6,145.5 636.7,136.3 650.9,127.8 662.3,121.4 668.7,120.0 683.7,117.7 712.0,115.4 731.3,113.7" fill="none" stroke="#c0c0c0" stroke-width="2" stroke-linejoin="round" /><polyline points="80.5,546.3 96.3,542.2 116.6,539.1 126.8,537.1 136.9,532.0 157.3,519.8 177.6,503.6 197.9,489.4 218.2,476.2 238.5,463.0 258.8,448.8 269.0,442.7 279.1,434.5 289.3,426.4 299.4,420.3 320.0,411.2 343.4,406.6 366.9,399.5 390.3,389.0 413.7,381.2 437.2,378.4 451.2,376.1 472.3,366.7 495.8,358.5 519.2,351.5 542.6,343.3 566.1,329.2 584.8,318.7 601.2,311.6 607.0,312.1 614.2,306.4 628.4,296.5 642.6,287.9 656.7,280.9 666.7,276.3 685.1,274.5 713.5,272.3 731.9,270.6" fill="none" stroke="#c0c0c0" stroke-width="2" stroke-linejoin="round" /><polyline points="112.7,637.9 184.4,621.6 268.7,604.7 353.1,586.4 409.3,573.7 457.1,563.9 554.6,540.0 598.6,529.8 655.3,514.2 697.9,502.8 731.3,493.5" fill="none" stroke="#00ffff" stroke-width="1" stroke-linejoin="round" /><polyline points="116.9,637.0 122.5,634.2 130.9,633.6 157.3,621.6 184.4,604.0 216.8,586.1 245.2,570.5 273.6,556.3 302.0,539.3 324.6,528.5 344.5,522.3 372.9,510.9 401.2,496.7 428.4,488.7 456.7,475.9 482.3,467.4 519.1,454.6 547.5,440.4 581.6,424.8 612.8,410.6 641.1,397.9 666.7,386.5 683.7,383.7 712.1,376.6 731.3,370.9" fill="none" stroke="#008080" stroke-width="1" stroke-linejoin="round" /><polyline points="80.5,528.4 116.6,522.9 157.3,517.8 197.9,511.3 238.5,504.6 279.1,498.5 319.8,492.4 336.0,490.4 400.0,480.1 435.0,474.6 482.3,467.4 561.7,454.6 610.0,447.5 683.7,433.3 731.3,423.4" fill="none" stroke="#0000ff" stroke-width="1" stroke-linejoin="round" /><polyline points="80.5,523.5 96.3,522.5 108.5,523.9 116.6,521.9 126.8,518.8 134.9,509.7 143.0,499.5 157.3,497.9 177.6,497.1 185.7,497.5 191.8,499.5 197.9,495.5 208.0,492.4 218.2,490.4 228.3,486.3 236.5,482.3 244.6,471.1 252.7,463.0 258.8,452.8 264.9,438.6 271.0,422.3 277.1,412.2 283.2,406.1 288.3,400.0 291.8,394.3 299.0,390.0 306.0,387.2 320.0,379.6 331.7,377.3 343.4,371.4 355.2,366.7 366.9,364.4 378.6,360.9 390.3,358.5 402.0,356.9 413.7,353.8 425.5,351.5 437.2,351.5 455.9,352.7 466.5,348.0 472.3,336.2 484.1,328.0 495.8,316.3 507.5,309.3 515.7,307.0 526.2,312.8 540.3,317.5 550.9,319.4 561.4,315.2 572.0,307.7 577.8,309.3 589.5,303.4 600.0,298.6 604.3,297.9 609.9,295.0 617.0,285.1 624.1,275.9 631.2,271.6 638.3,262.4 645.4,256.7 652.5,248.2 659.6,241.8 668.1,238.0 673.8,241.1 679.4,241.1 687.9,238.3 695.0,234.5 713.5,234.5 724.8,234.0 731.9,232.6" fill="none" stroke="#800080" stroke-width="1" stroke-linejoin="round" /><polyline points="81.0,422.5 94.0,414.5 101.0,419.0 108.0,415.0 115.0,418.0 129.0,426.0 136.0,422.0 143.0,411.0 150.0,401.4 157.0,386.5 164.0,376.6 171.3,366.7 178.4,359.6 185.5,349.0 192.5,338.0 199.6,336.6 206.7,335.5 213.8,329.0 221.0,324.0 228.0,322.7 235.0,321.6 242.0,322.7 249.3,321.6 256.4,318.4 263.5,314.2 270.6,310.0 277.7,305.7 283.3,300.0 290.0,293.9 297.0,285.4 304.2,281.4 311.3,280.4 318.4,281.0 325.5,285.4 331.0,296.0 338.2,297.4 346.0,300.3 353.8,296.7 361.0,294.6 368.0,288.2 375.1,282.6 382.2,268.4 389.3,259.9 396.4,254.2 403.5,252.0 409.0,251.0 417.7,256.3 430.4,266.2 437.0,257.4 444.2,255.2 451.3,250.3 458.4,245.3 465.5,240.4 472.6,241.8 479.6,248.2 486.7,247.9 493.8,242.5 501.0,240.4 508.0,237.5 515.1,231.8 522.2,223.3 529.3,215.5 536.4,211.3 543.5,201.3 550.6,197.1 557.7,194.3 563.3,190.0 570.0,180.0 580.0,172.5 587.0,172.8 594.2,176.7 601.3,178.2 608.4,176.0 615.5,170.4 622.6,165.4 629.6,158.3 636.7,154.8 643.8,149.1 651.0,147.0 658.0,143.4 665.1,141.3 670.8,149.8 674.3,161.1 679.3,164.0 686.4,165.4 689.2,168.9 693.5,166.8 700.6,169.6 703.4,172.5 710.5,167.5 717.6,159.7 724.7,152.6 731.8,151.9" fill="none" stroke="#ff8000" stroke-width="1" stroke-linejoin="round" /><polyline points="81.0,485.7 94.0,478.0 101.0,483.0 108.0,479.0 115.0,483.0 129.0,489.5 136.0,484.0 143.0,472.0 150.0,457.0 157.0,446.0 164.0,437.0 171.0,428.0 178.0,421.0 185.5,412.0 192.5,404.3 199.6,402.4 206.7,401.0 213.8,395.0 221.0,390.8 228.0,389.4 235.0,388.2 242.0,389.8 249.3,388.7 256.4,383.7 263.5,379.4 270.6,375.9 277.7,372.3 284.8,362.4 291.8,355.3 299.0,351.0 306.0,349.0 311.3,348.0 318.4,348.5 325.5,353.5 331.7,362.0 345.8,367.9 359.8,360.9 368.0,354.9 375.1,350.0 382.2,337.9 389.3,328.0 396.4,323.0 403.5,320.9 407.7,320.1 417.7,325.1 430.4,334.3 437.5,326.5 450.0,320.9 453.6,318.7 466.5,309.3 479.4,315.2 486.4,317.0 495.2,310.0 508.0,305.6 515.1,302.1 522.2,295.0 529.3,285.0 536.4,277.9 543.5,272.3 550.6,267.3 557.7,262.3 564.8,255.2 571.8,248.2 577.5,243.2 584.6,242.5 590.0,243.2 594.0,246.0 600.0,248.2 607.0,246.1 614.2,241.1 621.3,234.0 628.4,228.4 635.5,224.8 642.6,221.3 649.6,217.7 656.7,216.3 661.0,213.5 668.8,212.5 672.3,225.5 678.0,234.8 685.1,237.6 690.8,239.7 697.9,237.6 705.0,241.4 710.6,239.7 717.7,229.8 724.8,223.4 731.9,223.0" fill="none" stroke="#ff8000" stroke-width="1" stroke-linejoin="round" /><polyline points="81.0,475.5 94.0,471.5 108.0,468.5 122.0,466.5 129.0,465.5 136.0,462.5 143.0,457.5 150.0,453.5 157.0,449.5 164.0,443.5 171.0,437.5 178.0,431.5 185.0,425.5 192.0,419.5 200.4,414.5 206.0,409.5 213.0,404.5 221.0,399.8 235.0,390.5 249.3,380.5 263.5,368.5 277.7,357.9 290.0,349.7 304.2,339.8 318.4,334.1 332.6,332.7 346.7,329.8 361.0,324.9 375.1,319.2 389.3,312.1 403.5,306.4 417.7,304.3 431.8,303.6 444.2,297.6 458.4,293.3 472.6,287.6 486.7,284.8 501.0,279.1 515.1,274.2 529.3,269.2 543.5,264.9 557.7,257.1 571.8,246.5 586.0,239.4 598.4,233.5 608.4,227.6 622.6,218.3 636.7,209.8 650.9,202.7 665.1,195.6 672.2,194.2 693.5,193.5 707.7,192.8 721.8,191.4 730.4,190.0" fill="none" stroke="#00ffff" stroke-width="1" stroke-linejoin="round" /><polyline points="81.0,484.2 94.0,480.2 108.0,477.2 122.0,475.2 129.0,474.2 136.0,471.2 143.0,466.2 150.0,462.2 157.0,458.2 164.0,452.2 171.0,446.2 178.0,440.2 185.0,434.2 192.0,428.2 200.4,423.2 206.0,418.2 213.0,413.2 221.0,408.5 235.0,399.2 249.3,389.2 263.5,377.2 277.7,366.6 290.0,358.4 304.2,348.5 318.4,342.8 332.6,341.4 346.7,338.5 361.0,333.6 375.1,327.9 389.3,320.8 403.5,315.1 417.7,313.0 431.8,312.3 444.2,306.3 458.4,302.0 472.6,296.3 486.7,293.5 501.0,287.8 515.1,282.9 529.3,277.9 543.5,273.6 557.7,265.8 571.8,255.2 586.0,248.1 598.4,242.2 608.4,236.3 622.6,227.0 636.7,218.5 650.9,211.4 665.1,204.3 672.2,202.9 693.5,202.2 707.7,201.5 721.8,200.1 730.4,198.7" fill="none" stroke="#00ffff" stroke-width="1" stroke-linejoin="round" /><polyline points="81.0,480.0 94.0,476.0 108.0,473.0 122.0,471.0 129.0,470.0 136.0,467.0 143.0,462.0 150.0,458.0 157.0,454.0 164.0,448.0 171.0,442.0 178.0,436.0 185.0,430.0 192.0,424.0 200.4,419.0 206.0,414.0 213.0,409.0 221.0,404.3 235.0,395.0 249.3,385.0 263.5,373.0 277.7,362.4 290.0,354.2 304.2,344.3 318.4,338.6 332.6,337.2 346.7,334.3 361.0,329.4 375.1,323.7 389.3,316.6 403.5,310.9 417.7,308.8 431.8,308.1 444.2,302.1 458.4,297.8 472.6,292.1 486.7,289.3 501.0,283.6 515.1,278.7 529.3,273.7 543.5,269.4 557.7,261.6 571.8,251.0 586.0,243.9 598.4,238.0 608.4,232.1 622.6,222.8 636.7,214.3 650.9,207.2 665.1,200.1 672.2,198.7 693.5,198.0 707.7,197.3 721.8,195.9 730.4,194.5" fill="none" stroke="#ffff00" stroke-width="3" stroke-linejoin="round" /><polyline points="81.0,480.0 94.0,476.0 108.0,473.0 122.0,471.0 129.0,470.0 136.0,467.0 143.0,462.0 150.0,458.0 157.0,454.0 164.0,448.0 171.0,442.0 178.0,436.0 185.0,430.0 192.0,424.0 200.4,419.0 206.0,414.0 213.0,409.0 221.0,404.3 235.0,395.0 249.3,385.0 263.5,373.0 277.7,362.4 290.0,354.2 304.2,344.3 318.4,338.6 332.6,337.2 346.7,334.3 361.0,329.4 375.1,323.7 389.3,316.6 403.5,310.9 417.7,308.8 431.8,308.1 444.2,302.1 458.4,297.8 472.6,292.1 486.7,289.3 501.0,283.6 515.1,278.7 529.3,273.7 543.5,269.4 557.7,261.6 571.8,251.0 586.0,243.9 598.4,238.0 608.4,232.1 622.6,222.8 636.7,214.3 650.9,207.2 665.1,200.1 672.2,198.7 693.5,198.0 707.7,197.3 721.8,195.9 730.4,194.5" fill="none" stroke="#808080" stroke-width="1" stroke-linejoin="round" /><polyline points="81.0,440.0 87.0,442.4 94.0,441.0 101.0,443.0 108.0,443.0 115.0,446.0 129.0,451.0 136.0,447.0 143.0,436.0 150.0,424.0 157.0,413.0 164.0,402.0 171.0,393.0 178.0,386.0 185.0,378.0 192.5,365.5 199.6,364.5 206.7,364.5 213.8,360.3 221.0,352.5 228.0,350.4 235.0,349.6 242.0,351.0 249.3,349.0 256.4,342.6 263.5,339.0 270.6,336.9 277.7,334.0 284.8,326.2 290.0,320.1 297.0,312.3 304.2,307.4 311.3,306.8 318.4,309.5 325.5,318.7 332.6,325.8 339.6,326.2 346.7,324.4 353.8,323.7 361.0,320.1 368.0,315.2 375.1,311.0 382.2,299.6 389.3,288.2 396.4,282.6 403.5,279.4 409.0,279.0 417.7,282.6 430.4,294.6 437.0,280.8 444.2,280.8 451.3,277.9 458.4,273.0 465.5,268.7 472.6,272.3 479.6,276.5 486.7,276.2 493.8,270.9 501.0,270.1 508.0,266.6 515.1,260.2 522.2,249.6 529.3,241.1 536.4,234.7 543.5,228.3 550.6,224.8 557.7,222.6 564.8,214.8 571.8,208.4 577.5,203.0 580.0,200.9 587.0,203.0 594.2,205.8 601.3,206.5 608.4,203.7 615.5,199.4 622.6,193.8 629.6,188.1 636.7,183.8 643.8,179.6 651.0,176.7 658.0,173.9 665.1,172.5 669.4,174.6 672.2,192.3 679.3,193.8 686.4,194.5 693.5,195.2 700.6,196.6 704.8,197.3 710.5,193.8 717.6,186.7 724.7,181.0 729.0,181.0" fill="none" stroke="#ff00ff" stroke-width="1" stroke-linejoin="round" /><polyline points="81.0,459.5 94.0,452.0 101.0,455.0 108.0,453.0 115.0,456.0 122.0,459.0 129.0,463.0 136.0,459.0 143.0,448.0 150.0,436.0 157.0,424.0 164.0,413.0 171.0,402.0 178.0,394.0 185.0,386.0 192.5,375.2 199.6,374.5 206.7,373.0 213.8,369.5 221.0,363.8 228.0,361.0 235.0,361.0 242.0,362.4 249.3,359.6 256.4,354.6 263.5,351.8 270.6,349.0 277.7,346.8 284.8,339.7 290.0,333.6 297.0,325.1 304.2,320.9 311.3,320.6 318.4,322.3 325.5,328.0 332.6,337.2 339.6,339.3 346.7,337.9 353.8,336.5 361.0,333.6 368.0,328.0 375.1,322.3 382.2,311.0 389.3,301.0 396.4,295.3 403.5,292.8 409.0,292.5 417.7,296.7 430.4,306.7 437.0,296.4 444.2,295.0 451.3,289.3 458.4,284.3 465.5,281.5 472.6,284.3 479.6,288.6 486.7,287.9 493.8,283.6 501.0,280.8 508.0,275.8 515.1,272.3 522.2,263.8 529.3,253.8 536.4,246.0 543.5,241.1 550.6,238.2 557.7,235.4 564.8,227.6 571.8,219.1 577.5,214.0 580.0,212.9 587.0,213.6 594.2,217.9 601.3,219.3 608.4,216.5 615.5,210.8 622.6,204.4 629.6,199.4 636.7,195.2 643.8,190.9 651.0,188.8 658.0,185.2 665.1,183.5 669.4,183.8 672.9,199.4 679.3,203.7 686.4,206.5 693.5,207.9 700.6,210.8 707.7,211.5 714.8,206.5 721.8,199.4 730.4,196.6" fill="none" stroke="#ff00ff" stroke-width="1" stroke-linejoin="round" /><polyline points="81.0,452.0 94.0,448.0 101.0,450.0 108.0,449.0 115.0,451.0 122.0,454.0 129.0,457.0 136.0,453.0 143.0,442.0 150.0,430.0 157.0,418.0 164.0,406.0 171.0,397.0 178.0,390.0 185.0,383.0 192.5,370.2 199.6,369.0 206.7,368.0 213.8,363.8 221.0,357.4 228.0,355.3 235.0,354.6 242.0,355.6 249.3,353.9 256.4,348.2 263.5,345.4 270.6,343.3 277.7,338.3 284.8,330.5 290.0,325.0 297.0,318.0 304.2,314.5 311.3,314.0 318.4,315.9 325.5,323.7 332.6,333.6 339.6,334.3 346.7,332.2 353.8,330.8 361.0,325.1 368.0,320.9 375.1,316.6 382.2,304.5 389.3,294.6 396.4,289.0 403.5,286.8 409.0,286.1 417.7,289.6 430.4,301.0 437.0,290.7 444.2,288.6 451.3,283.6 458.4,278.7 465.5,275.1 472.6,278.7 479.6,282.9 486.7,282.2 493.8,277.2 501.0,273.7 508.0,270.1 515.1,265.2 522.2,256.0 529.3,246.7 536.4,239.6 543.5,234.7 550.6,231.1 557.7,229.0 564.8,220.5 571.8,212.7 577.5,207.0 580.0,205.1 587.0,207.9 594.2,211.5 601.3,212.2 608.4,207.9 615.5,203.7 622.6,198.0 629.6,193.0 636.7,188.8 643.8,184.5 651.0,182.4 658.0,178.9 665.1,176.7 669.4,177.4 672.9,195.2 679.3,199.4 686.4,201.6 693.5,202.3 700.6,203.7 704.8,205.1 710.5,200.9 717.6,192.3 724.7,188.1 730.4,188.4" fill="none" stroke="#00ff00" stroke-width="1" stroke-linejoin="round" /><polyline points="81.0,437.0 87.0,432.0 94.0,428.0 101.0,425.5 108.0,423.0 115.0,421.5 122.0,421.0 129.0,421.0 136.0,421.5 143.0,421.5 150.0,413.0 157.0,405.0 164.0,395.0 171.3,384.5 178.0,376.6 189.7,356.7 205.3,341.0 213.8,330.5 221.0,323.4 228.0,317.0 235.0,312.8 242.0,310.6 249.3,308.2 256.4,307.8 263.5,310.0 270.6,314.2 276.4,316.6 282.8,313.9 289.2,312.9 293.4,312.3 299.8,307.6 305.1,301.7 310.5,299.6 321.1,299.0 328.6,298.0 332.6,297.4 339.6,298.2 346.7,299.6 353.8,297.9 361.0,296.7 368.0,295.3 375.1,293.2 382.2,286.8 389.3,281.1 396.4,274.0 403.5,270.5 410.6,267.7 417.7,266.2 424.8,265.2 430.4,264.8 437.0,261.6 444.2,259.5 451.3,255.2 458.4,251.0 465.5,247.4 472.6,251.0 479.6,254.5 486.7,256.4 493.8,255.0 501.0,254.5 508.0,254.5 515.1,252.4 522.2,245.3 529.3,238.2 536.4,231.1 543.5,223.3 550.6,216.2 557.7,210.6 564.8,205.6 571.8,199.2 577.5,192.0 580.0,188.1 594.2,181.0 608.4,177.0 620.0,174.8 630.6,170.0 641.3,165.9 651.9,165.0 659.4,162.6 670.8,160.7 679.3,160.1 693.5,161.4 707.7,161.1 714.8,159.0 721.8,157.2 731.8,154.8" fill="none" stroke="#800000" stroke-width="1" stroke-linejoin="round" /><polyline points="81.0,438.0 94.0,433.0 101.0,429.5 108.0,426.0 115.0,423.0 122.0,421.0 129.0,419.5 136.0,417.0 143.0,413.0 150.0,409.2 164.0,399.3 178.4,389.6 192.5,380.0 206.7,373.8 221.0,364.5 235.0,356.7 243.6,351.8 249.3,348.2 263.5,340.0 277.7,332.0 290.0,323.7 304.2,313.8 318.4,306.7 332.6,301.0 346.7,297.9 361.0,290.4 375.1,283.3 389.3,276.2 403.5,269.1 417.7,262.7 430.0,258.8 444.2,252.4 458.4,245.3 472.6,240.4 486.7,236.1 501.0,230.4 515.1,224.0 529.3,217.7 543.5,209.9 557.7,203.5 571.8,195.0 580.0,190.0 594.2,183.4 608.4,177.0 622.6,170.2 636.7,162.4 650.9,155.0 662.6,149.8 673.2,146.1 683.8,143.9 694.5,141.8 705.1,139.7 715.7,135.4 726.4,131.7 731.2,130.1" fill="none" stroke="#ff0000" stroke-width="1" stroke-linejoin="round" /><polyline points="80.5,537.1 96.3,530.0 116.6,521.9 136.9,515.8 157.3,505.6 177.6,492.4 197.9,478.2 218.2,466.0 238.5,454.8 258.8,443.7 279.1,433.5 299.4,421.3 319.8,410.2 343.4,401.9 366.9,391.3 390.3,379.6 413.7,369.1 437.2,360.9 460.6,350.3 484.1,343.3 507.5,335.1 530.9,324.5 554.4,312.8 577.8,301.1 601.2,290.5 614.2,283.7 628.4,277.3 642.6,270.9 656.7,263.8 668.1,257.9 678.0,257.4 692.2,253.9 706.4,249.6 720.6,245.4 731.9,242.6" fill="none" stroke="#000" stroke-width="2" stroke-linejoin="round" /></g><g shape-rendering="crispEdges"><rect x="80" y="436" width="1" height="17" fill="#0000ff"/><rect x="78" y="438" width="5" height="13" fill="#0000ff"/><rect x="79" y="439" width="3" height="11" fill="#fff"/><rect x="87" y="430" width="1" height="23" fill="#0000ff"/><rect x="85" y="435" width="5" height="10" fill="#0000ff"/><rect x="94" y="435" width="1" height="16" fill="#0000ff"/><rect x="92" y="435" width="5" height="16" fill="#0000ff"/><rect x="93" y="436" width="3" height="14" fill="#fff"/><rect x="101" y="443" width="1" height="24" fill="#0000ff"/><rect x="99" y="452" width="5" height="11" fill="#0000ff"/><rect x="108" y="433" width="1" height="20" fill="#0000ff"/><rect x="106" y="440" width="5" height="12" fill="#0000ff"/><rect x="107" y="441" width="3" height="10" fill="#fff"/><rect x="115" y="444" width="1" height="19" fill="#0000ff"/><rect x="113" y="448" width="5" height="12" fill="#0000ff"/><rect x="122" y="446" width="1" height="18" fill="#0000ff"/><rect x="120" y="457" width="5" height="5" fill="#0000ff"/><rect x="129" y="446" width="1" height="24" fill="#0000ff"/><rect x="127" y="453" width="5" height="14" fill="#0000ff"/><rect x="136" y="442" width="1" height="33" fill="#0000ff"/><rect x="134" y="443" width="5" height="22" fill="#0000ff"/><rect x="135" y="444" width="3" height="20" fill="#fff"/><rect x="143" y="414" width="1" height="17" fill="#0000ff"/><rect x="141" y="419" width="5" height="12" fill="#0000ff"/><rect x="142" y="420" width="3" height="10" fill="#fff"/><rect x="150" y="411" width="1" height="12" fill="#0000ff"/><rect x="148" y="413" width="5" height="7" fill="#0000ff"/><rect x="157" y="397" width="1" height="15" fill="#0000ff"/><rect x="155" y="399" width="5" height="12" fill="#0000ff"/><rect x="156" y="400" width="3" height="10" fill="#fff"/><rect x="164" y="382" width="1" height="20" fill="#0000ff"/><rect x="162" y="387" width="5" height="9" fill="#0000ff"/><rect x="163" y="388" width="3" height="7" fill="#fff"/><rect x="171" y="371" width="1" height="15" fill="#0000ff"/><rect x="169" y="376" width="5" height="4" fill="#0000ff"/><rect x="170" y="377" width="3" height="2" fill="#fff"/><rect x="178" y="374" width="1" height="12" fill="#0000ff"/><rect x="176" y="379" width="5" height="4" fill="#0000ff"/><rect x="177" y="380" width="3" height="2" fill="#fff"/><rect x="185" y="366" width="1" height="16" fill="#0000ff"/><rect x="183" y="366" width="5" height="14" fill="#0000ff"/><rect x="184" y="367" width="3" height="12" fill="#fff"/><rect x="192" y="345" width="1" height="17" fill="#0000ff"/><rect x="190" y="348" width="5" height="12" fill="#0000ff"/><rect x="191" y="349" width="3" height="10" fill="#fff"/><rect x="199" y="353" width="1" height="23" fill="#0000ff"/><rect x="197" y="354" width="5" height="13" fill="#0000ff"/><rect x="206" y="361" width="1" height="10" fill="#0000ff"/><rect x="204" y="364" width="5" height="5" fill="#0000ff"/><rect x="213" y="351" width="1" height="14" fill="#0000ff"/><rect x="211" y="354" width="5" height="7" fill="#0000ff"/><rect x="212" y="355" width="3" height="5" fill="#fff"/><rect x="220" y="343" width="1" height="15" fill="#0000ff"/><rect x="218" y="346" width="5" height="8" fill="#0000ff"/><rect x="219" y="347" width="3" height="6" fill="#fff"/><rect x="227" y="351" width="1" height="12" fill="#0000ff"/><rect x="225" y="355" width="5" height="3" fill="#0000ff"/><rect x="226" y="356" width="3" height="1" fill="#fff"/><rect x="234" y="349" width="1" height="13" fill="#0000ff"/><rect x="232" y="352" width="5" height="5" fill="#0000ff"/><rect x="233" y="353" width="3" height="3" fill="#fff"/><rect x="241" y="338" width="1" height="24" fill="#0000ff"/><rect x="239" y="341" width="5" height="21" fill="#0000ff"/><rect x="248" y="352" width="1" height="25" fill="#0000ff"/><rect x="246" y="354" width="5" height="3" fill="#0000ff"/><rect x="247" y="355" width="3" height="1" fill="#fff"/><rect x="255" y="337" width="1" height="19" fill="#0000ff"/><rect x="253" y="341" width="5" height="14" fill="#0000ff"/><rect x="254" y="342" width="3" height="12" fill="#fff"/><rect x="262" y="333" width="1" height="13" fill="#0000ff"/><rect x="260" y="334" width="5" height="8" fill="#0000ff"/><rect x="269" y="325" width="1" height="14" fill="#0000ff"/><rect x="267" y="337" width="5" height="2" fill="#0000ff"/><rect x="276" y="334" width="1" height="13" fill="#0000ff"/><rect x="274" y="335" width="5" height="2" fill="#0000ff"/><rect x="283" y="316" width="1" height="17" fill="#0000ff"/><rect x="281" y="317" width="5" height="14" fill="#0000ff"/><rect x="282" y="318" width="3" height="12" fill="#fff"/><rect x="290" y="308" width="1" height="9" fill="#0000ff"/><rect x="288" y="313" width="5" height="3" fill="#0000ff"/><rect x="297" y="303" width="1" height="10" fill="#0000ff"/><rect x="295" y="305" width="5" height="8" fill="#0000ff"/><rect x="296" y="306" width="3" height="6" fill="#fff"/><rect x="304" y="301" width="1" height="10" fill="#0000ff"/><rect x="302" y="302" width="5" height="4" fill="#0000ff"/><rect x="311" y="298" width="1" height="17" fill="#0000ff"/><rect x="309" y="299" width="5" height="15" fill="#0000ff"/><rect x="318" y="302" width="1" height="24" fill="#0000ff"/><rect x="316" y="308" width="5" height="9" fill="#0000ff"/><rect x="325" y="291" width="1" height="37" fill="#0000ff"/><rect x="323" y="291" width="5" height="35" fill="#0000ff"/><rect x="332" y="344" width="1" height="28" fill="#0000ff"/><rect x="330" y="344" width="5" height="19" fill="#0000ff"/><rect x="339" y="327" width="1" height="26" fill="#0000ff"/><rect x="337" y="328" width="5" height="23" fill="#0000ff"/><rect x="338" y="329" width="3" height="21" fill="#fff"/><rect x="346" y="322" width="1" height="21" fill="#0000ff"/><rect x="344" y="325" width="5" height="15" fill="#0000ff"/><rect x="353" y="319" width="1" height="20" fill="#0000ff"/><rect x="351" y="323" width="5" height="13" fill="#0000ff"/><rect x="352" y="324" width="3" height="11" fill="#fff"/><rect x="360" y="305" width="1" height="30" fill="#0000ff"/><rect x="358" y="311" width="5" height="15" fill="#0000ff"/><rect x="367" y="303" width="1" height="17" fill="#0000ff"/><rect x="365" y="305" width="5" height="14" fill="#0000ff"/><rect x="366" y="306" width="3" height="12" fill="#fff"/><rect x="374" y="298" width="1" height="17" fill="#0000ff"/><rect x="372" y="306" width="5" height="7" fill="#0000ff"/><rect x="381" y="283" width="1" height="24" fill="#0000ff"/><rect x="379" y="284" width="5" height="20" fill="#0000ff"/><rect x="380" y="285" width="3" height="18" fill="#fff"/><rect x="388" y="272" width="1" height="12" fill="#0000ff"/><rect x="386" y="276" width="5" height="2" fill="#0000ff"/><rect x="395" y="273" width="1" height="13" fill="#0000ff"/><rect x="393" y="276" width="5" height="6" fill="#0000ff"/><rect x="394" y="277" width="3" height="4" fill="#fff"/><rect x="402" y="270" width="1" height="15" fill="#0000ff"/><rect x="400" y="272" width="5" height="11" fill="#0000ff"/><rect x="409" y="280" width="1" height="7" fill="#0000ff"/><rect x="407" y="283" width="5" height="2" fill="#0000ff"/><rect x="416" y="280" width="1" height="21" fill="#0000ff"/><rect x="414" y="284" width="5" height="14" fill="#0000ff"/><rect x="423" y="298" width="1" height="25" fill="#000"/><rect x="421" y="299" width="5" height="6" fill="#000"/><rect x="430" y="304" width="1" height="15" fill="#000"/><rect x="428" y="308" width="5" height="6" fill="#000"/><rect x="437" y="271" width="1" height="38" fill="#0000ff"/><rect x="435" y="276" width="5" height="32" fill="#0000ff"/><rect x="436" y="277" width="3" height="30" fill="#fff"/><rect x="444" y="276" width="1" height="11" fill="#0000ff"/><rect x="442" y="279" width="5" height="8" fill="#0000ff"/><rect x="451" y="275" width="1" height="15" fill="#0000ff"/><rect x="449" y="276" width="5" height="13" fill="#0000ff"/><rect x="450" y="277" width="3" height="11" fill="#fff"/><rect x="458" y="268" width="1" height="12" fill="#0000ff"/><rect x="456" y="271" width="5" height="8" fill="#0000ff"/><rect x="457" y="272" width="3" height="6" fill="#fff"/><rect x="465" y="260" width="1" height="16" fill="#0000ff"/><rect x="463" y="263" width="5" height="7" fill="#0000ff"/><rect x="464" y="264" width="3" height="5" fill="#fff"/><rect x="472" y="266" width="1" height="19" fill="#0000ff"/><rect x="470" y="267" width="5" height="13" fill="#0000ff"/><rect x="479" y="296" width="1" height="21" fill="#000"/><rect x="477" y="296" width="5" height="6" fill="#000"/><rect x="478" y="297" width="3" height="4" fill="#fff"/><rect x="486" y="281" width="1" height="15" fill="#0000ff"/><rect x="484" y="283" width="5" height="2" fill="#0000ff"/><rect x="493" y="262" width="1" height="23" fill="#0000ff"/><rect x="491" y="263" width="5" height="18" fill="#0000ff"/><rect x="492" y="264" width="3" height="16" fill="#fff"/><rect x="500" y="251" width="1" height="34" fill="#0000ff"/><rect x="498" y="252" width="5" height="20" fill="#0000ff"/><rect x="507" y="260" width="1" height="11" fill="#0000ff"/><rect x="505" y="264" width="5" height="2" fill="#0000ff"/><rect x="514" y="256" width="1" height="14" fill="#0000ff"/><rect x="512" y="258" width="5" height="6" fill="#0000ff"/><rect x="513" y="259" width="3" height="4" fill="#fff"/><rect x="521" y="242" width="1" height="10" fill="#0000ff"/><rect x="519" y="244" width="5" height="6" fill="#0000ff"/><rect x="528" y="228" width="1" height="18" fill="#0000ff"/><rect x="526" y="230" width="5" height="14" fill="#0000ff"/><rect x="527" y="231" width="3" height="12" fill="#fff"/><rect x="535" y="225" width="1" height="9" fill="#0000ff"/><rect x="533" y="229" width="5" height="4" fill="#0000ff"/><rect x="542" y="218" width="1" height="8" fill="#0000ff"/><rect x="540" y="220" width="5" height="5" fill="#0000ff"/><rect x="541" y="221" width="3" height="3" fill="#fff"/><rect x="549" y="215" width="1" height="11" fill="#0000ff"/><rect x="547" y="216" width="5" height="9" fill="#0000ff"/><rect x="556" y="216" width="1" height="29" fill="#0000ff"/><rect x="554" y="224" width="5" height="2" fill="#0000ff"/><rect x="563" y="204" width="1" height="17" fill="#0000ff"/><rect x="561" y="213" width="5" height="4" fill="#0000ff"/><rect x="562" y="214" width="3" height="2" fill="#fff"/><rect x="570" y="198" width="1" height="16" fill="#0000ff"/><rect x="568" y="202" width="5" height="8" fill="#0000ff"/><rect x="569" y="203" width="3" height="6" fill="#fff"/><rect x="577" y="188" width="1" height="20" fill="#0000ff"/><rect x="575" y="191" width="5" height="15" fill="#0000ff"/><rect x="576" y="192" width="3" height="13" fill="#fff"/><rect x="584" y="188" width="1" height="21" fill="#0000ff"/><rect x="582" y="190" width="5" height="16" fill="#0000ff"/><rect x="591" y="198" width="1" height="20" fill="#0000ff"/><rect x="589" y="199" width="5" height="14" fill="#0000ff"/><rect x="598" y="219" width="1" height="19" fill="#0000ff"/><rect x="596" y="222" width="5" height="4" fill="#0000ff"/><rect x="605" y="207" width="1" height="18" fill="#0000ff"/><rect x="603" y="210" width="5" height="11" fill="#0000ff"/><rect x="604" y="211" width="3" height="9" fill="#fff"/><rect x="612" y="196" width="1" height="14" fill="#0000ff"/><rect x="610" y="201" width="5" height="2" fill="#0000ff"/><rect x="619" y="191" width="1" height="19" fill="#0000ff"/><rect x="617" y="193" width="5" height="12" fill="#0000ff"/><rect x="618" y="194" width="3" height="10" fill="#fff"/><rect x="626" y="181" width="1" height="24" fill="#0000ff"/><rect x="624" y="183" width="5" height="20" fill="#0000ff"/><rect x="625" y="184" width="3" height="18" fill="#fff"/><rect x="633" y="175" width="1" height="16" fill="#0000ff"/><rect x="631" y="176" width="5" height="7" fill="#0000ff"/><rect x="640" y="168" width="1" height="18" fill="#0000ff"/><rect x="638" y="179" width="5" height="5" fill="#0000ff"/><rect x="647" y="169" width="1" height="12" fill="#0000ff"/><rect x="645" y="172" width="5" height="4" fill="#0000ff"/><rect x="646" y="173" width="3" height="2" fill="#fff"/><rect x="654" y="167" width="1" height="22" fill="#0000ff"/><rect x="652" y="170" width="5" height="13" fill="#0000ff"/><rect x="661" y="166" width="1" height="15" fill="#0000ff"/><rect x="659" y="167" width="5" height="13" fill="#0000ff"/><rect x="660" y="168" width="3" height="11" fill="#fff"/><rect x="668" y="163" width="1" height="18" fill="#0000ff"/><rect x="666" y="165" width="5" height="11" fill="#0000ff"/><rect x="675" y="164" width="1" height="80" fill="#0000ff"/><rect x="673" y="172" width="5" height="72" fill="#0000ff"/><rect x="682" y="199" width="1" height="20" fill="#0000ff"/><rect x="680" y="205" width="5" height="14" fill="#0000ff"/><rect x="681" y="206" width="3" height="12" fill="#fff"/><rect x="689" y="195" width="1" height="48" fill="#0000ff"/><rect x="687" y="210" width="5" height="16" fill="#0000ff"/><rect x="688" y="211" width="3" height="14" fill="#fff"/><rect x="696" y="178" width="1" height="44" fill="#0000ff"/><rect x="694" y="192" width="5" height="8" fill="#0000ff"/><rect x="703" y="184" width="1" height="45" fill="#0000ff"/><rect x="701" y="192" width="5" height="24" fill="#0000ff"/><rect x="710" y="197" width="1" height="28" fill="#0000ff"/><rect x="708" y="202" width="5" height="19" fill="#0000ff"/><rect x="709" y="203" width="3" height="17" fill="#fff"/><rect x="717" y="171" width="1" height="22" fill="#0000ff"/><rect x="715" y="175" width="5" height="17" fill="#0000ff"/><rect x="716" y="176" width="3" height="15" fill="#fff"/><rect x="724" y="168" width="1" height="12" fill="#0000ff"/><rect x="722" y="173" width="5" height="2" fill="#0000ff"/><rect x="731" y="169" width="1" height="36" fill="#0000ff"/><rect x="729" y="172" width="5" height="18" fill="#0000ff"/></g><g shape-rendering="crispEdges"><rect x="787" y="186" width="57" height="1" fill="#ff0000"/><rect x="787" y="290" width="57" height="1" fill="#ff0000"/><rect x="787" y="458" width="57" height="1" fill="#ff0000"/><rect x="787" y="622" width="57" height="1" fill="#ff0000"/></g><text x="801.5" y="179.3" font-size="14" fill="#000" text-anchor="start" textLength="27.6" lengthAdjust="spacingAndGlyphs" style="font-family:'Liberation Sans',sans-serif;font-weight:bold;" >6699</text><text x="801.5" y="283.7" font-size="14" fill="#000" text-anchor="start" textLength="27.6" lengthAdjust="spacingAndGlyphs" style="font-family:'Liberation Sans',sans-serif;font-weight:bold;" >6427</text><text x="794.5" y="452" font-size="14" fill="#000" text-anchor="start" textLength="27.6" lengthAdjust="spacingAndGlyphs" style="font-family:'Liberation Sans',sans-serif;font-weight:bold;" >5990</text><text x="801.5" y="615.8" font-size="14" fill="#000" text-anchor="start" textLength="27.6" lengthAdjust="spacingAndGlyphs" style="font-family:'Liberation Sans',sans-serif;font-weight:bold;" >5554</text><text x="326" y="501" font-size="13.33" fill="#000" text-anchor="start" textLength="47.3" lengthAdjust="spacing" style="font-family:'Liberation Sans',sans-serif;font-weight:bold;" >Small T</text><text x="417.5" y="461" font-size="13.33" fill="#000" text-anchor="start" textLength="47.3" lengthAdjust="spacing" style="font-family:'Liberation Sans',sans-serif;font-weight:bold;" >Small T</text><text x="466.5" y="444" font-size="13.33" fill="#000" text-anchor="start" textLength="47.3" lengthAdjust="spacing" style="font-family:'Liberation Sans',sans-serif;font-weight:bold;" >Small T</text><text x="578.3" y="423" font-size="13.33" fill="#000" text-anchor="start" textLength="47.3" lengthAdjust="spacing" style="font-family:'Liberation Sans',sans-serif;font-weight:bold;" >Small T</text><text x="668" y="398" font-size="13.33" fill="#000" text-anchor="start" textLength="126.4" lengthAdjust="spacing" style="font-family:'Liberation Sans',sans-serif;font-weight:bold;" >Possible T Structure</text><text x="409.7" y="602" font-size="13.33" fill="#000" text-anchor="start" textLength="147.6" lengthAdjust="spacing" style="font-family:'Liberation Sans',sans-serif;font-weight:bold;" >Possible DB T Structure</text><text x="745" y="220" font-size="13.33" fill="#000" text-anchor="start" textLength="89.6" lengthAdjust="spacing" style="font-family:'Liberation Sans',sans-serif;font-weight:bold;" >COVER Signal</text><text x="934.2" y="124" font-size="12" fill="#000" text-anchor="start" textLength="150.3" lengthAdjust="spacing" style="font-family:'Liberation Sans',sans-serif;font-weight:bold;" >Next Echo and Pulse Highs</text><text x="934.2" y="184" font-size="12" fill="#000" text-anchor="start" textLength="100.6" lengthAdjust="spacing" style="font-family:'Liberation Sans',sans-serif;font-weight:bold;" >* COVER SIGNAL *</text><text x="934.2" y="199" font-size="12" fill="#000" text-anchor="start" textLength="69.1" lengthAdjust="spacing" style="font-family:'Liberation Sans',sans-serif;font-weight:bold;" >* WARNING *</text><text x="934.2" y="229" font-size="12" fill="#000" text-anchor="start" textLength="179.8" lengthAdjust="spacing" style="font-family:'Liberation Sans',sans-serif;font-weight:bold;" >COVER Signal at 6683 on 22 Oct</text><text x="934.2" y="259" font-size="12" fill="#000" text-anchor="start" textLength="189.1" lengthAdjust="spacing" style="font-family:'Liberation Sans',sans-serif;font-weight:bold;" >T volume Osc: Negative on 22 Oct</text><text x="934.2" y="274" font-size="12" fill="#000" text-anchor="start" textLength="31.2" lengthAdjust="spacing" style="font-family:'Liberation Sans',sans-serif;font-weight:bold;" >Down</text><text x="934.2" y="304" font-size="12" fill="#000" text-anchor="start" textLength="153.1" lengthAdjust="spacing" style="font-family:'Liberation Sans',sans-serif;font-weight:bold;" >Osc: SELL Signal on 10 Oct</text><text x="934.2" y="319" font-size="12" fill="#000" text-anchor="start" textLength="14.3" lengthAdjust="spacing" style="font-family:'Liberation Sans',sans-serif;font-weight:bold;" >Up</text><text x="934.2" y="394" font-size="12" fill="#000" text-anchor="start" textLength="76" lengthAdjust="spacing" style="font-family:'Liberation Sans',sans-serif;font-weight:bold;" >Click here for</text><text x="934.2" y="409" font-size="12" fill="#000" text-anchor="start" textLength="105.4" lengthAdjust="spacing" style="font-family:'Liberation Sans',sans-serif;font-weight:bold;" >More Information...</text><g shape-rendering="crispEdges"><rect x="80" y="651" width="1" height="149" fill="#0000ff"/><rect x="87" y="659" width="1" height="141" fill="#0000ff"/><rect x="94" y="662" width="1" height="138" fill="#0000ff"/><rect x="101" y="673" width="1" height="127" fill="#0000ff"/><rect x="108" y="680" width="1" height="120" fill="#0000ff"/><rect x="115" y="692" width="1" height="108" fill="#0000ff"/><rect x="122" y="706" width="1" height="94" fill="#0000ff"/><rect x="129" y="720" width="1" height="80" fill="#0000ff"/><rect x="136" y="728" width="1" height="72" fill="#0000ff"/><rect x="143" y="729" width="1" height="71" fill="#0000ff"/><rect x="150" y="724" width="1" height="76" fill="#0000ff"/><rect x="157" y="716" width="1" height="84" fill="#0000ff"/><rect x="164" y="704" width="1" height="96" fill="#0000ff"/><rect x="171" y="686" width="1" height="114" fill="#0000ff"/><rect x="178" y="681" width="1" height="119" fill="#0000ff"/><rect x="185" y="673" width="1" height="127" fill="#0000ff"/><rect x="192" y="662" width="1" height="138" fill="#0000ff"/><rect x="199" y="659" width="1" height="141" fill="#0000ff"/><rect x="206" y="661" width="1" height="139" fill="#0000ff"/><rect x="213" y="659" width="1" height="141" fill="#0000ff"/><rect x="220" y="657" width="1" height="143" fill="#0000ff"/><rect x="227" y="665" width="1" height="135" fill="#0000ff"/><rect x="234" y="669" width="1" height="131" fill="#0000ff"/><rect x="241" y="671" width="1" height="129" fill="#0000ff"/><rect x="248" y="681" width="1" height="119" fill="#0000ff"/><rect x="255" y="687" width="1" height="113" fill="#0000ff"/><rect x="262" y="688" width="1" height="112" fill="#0000ff"/><rect x="269" y="688" width="1" height="112" fill="#0000ff"/><rect x="276" y="692" width="1" height="108" fill="#0000ff"/><rect x="283" y="687" width="1" height="113" fill="#0000ff"/><rect x="290" y="683" width="1" height="117" fill="#0000ff"/><rect x="297" y="680" width="1" height="120" fill="#0000ff"/><rect x="304" y="679" width="1" height="121" fill="#0000ff"/><rect x="311" y="674" width="1" height="126" fill="#0000ff"/><rect x="318" y="677" width="1" height="123" fill="#0000ff"/><rect x="325" y="683" width="1" height="117" fill="#0000ff"/><rect x="332" y="705" width="1" height="95" fill="#0000ff"/><rect x="339" y="722" width="1" height="78" fill="#0000ff"/><rect x="346" y="737" width="1" height="63" fill="#0000ff"/><rect x="353" y="748" width="1" height="52" fill="#0000ff"/><rect x="360" y="758" width="1" height="42" fill="#0000ff"/><rect x="367" y="749" width="1" height="51" fill="#0000ff"/><rect x="374" y="745" width="1" height="55" fill="#0000ff"/><rect x="381" y="740" width="1" height="60" fill="#0000ff"/><rect x="388" y="730" width="1" height="70" fill="#0000ff"/><rect x="395" y="722" width="1" height="78" fill="#0000ff"/><rect x="402" y="717" width="1" height="83" fill="#0000ff"/><rect x="409" y="714" width="1" height="86" fill="#0000ff"/><rect x="416" y="717" width="1" height="83" fill="#0000ff"/><rect x="423" y="732" width="1" height="68" fill="#0000ff"/><rect x="430" y="746" width="1" height="54" fill="#0000ff"/><rect x="437" y="753" width="1" height="47" fill="#0000ff"/><rect x="444" y="757" width="1" height="43" fill="#0000ff"/><rect x="451" y="758" width="1" height="42" fill="#0000ff"/><rect x="458" y="750" width="1" height="50" fill="#0000ff"/><rect x="465" y="739" width="1" height="61" fill="#0000ff"/><rect x="472" y="738" width="1" height="62" fill="#0000ff"/><rect x="479" y="749" width="1" height="51" fill="#0000ff"/><rect x="486" y="754" width="1" height="46" fill="#0000ff"/><rect x="493" y="758" width="1" height="42" fill="#0000ff"/><rect x="500" y="762" width="1" height="38" fill="#0000ff"/><rect x="507" y="762" width="1" height="38" fill="#0000ff"/><rect x="514" y="750" width="1" height="50" fill="#0000ff"/><rect x="521" y="741" width="1" height="59" fill="#0000ff"/><rect x="528" y="732" width="1" height="68" fill="#0000ff"/><rect x="535" y="723" width="1" height="77" fill="#0000ff"/><rect x="542" y="712" width="1" height="88" fill="#0000ff"/><rect x="549" y="702" width="1" height="98" fill="#0000ff"/><rect x="556" y="700" width="1" height="100" fill="#0000ff"/><rect x="563" y="696" width="1" height="104" fill="#0000ff"/><rect x="570" y="693" width="1" height="107" fill="#0000ff"/><rect x="577" y="693" width="1" height="107" fill="#0000ff"/><rect x="584" y="692" width="1" height="108" fill="#0000ff"/><rect x="591" y="691" width="1" height="109" fill="#0000ff"/><rect x="598" y="701" width="1" height="99" fill="#0000ff"/><rect x="605" y="709" width="1" height="91" fill="#0000ff"/><rect x="612" y="716" width="1" height="84" fill="#0000ff"/><rect x="619" y="723" width="1" height="77" fill="#0000ff"/><rect x="626" y="722" width="1" height="78" fill="#0000ff"/><rect x="633" y="711" width="1" height="89" fill="#0000ff"/><rect x="640" y="703" width="1" height="97" fill="#0000ff"/><rect x="647" y="699" width="1" height="101" fill="#0000ff"/><rect x="654" y="696" width="1" height="104" fill="#0000ff"/><rect x="661" y="695" width="1" height="105" fill="#0000ff"/><rect x="668" y="698" width="1" height="102" fill="#0000ff"/><rect x="675" y="714" width="1" height="86" fill="#0000ff"/><rect x="682" y="729" width="1" height="71" fill="#0000ff"/><rect x="689" y="746" width="1" height="54" fill="#0000ff"/><rect x="696" y="760" width="1" height="40" fill="#0000ff"/><rect x="703" y="775" width="1" height="25" fill="#0000ff"/><rect x="710" y="780" width="1" height="20" fill="#0000ff"/><rect x="717" y="775" width="1" height="25" fill="#0000ff"/><rect x="724" y="766" width="1" height="34" fill="#0000ff"/><rect x="731" y="767" width="1" height="33" fill="#0000ff"/><polyline points="80.4,657.7 96.1,658.1 110.2,660.1 122.2,663.1 136.3,669.1 152.4,676.2 162.4,678.2 172.5,679.2 184.5,679.2 196.6,677.8 212.7,675.2 222.7,674.2 236.8,673.2 246.9,673.8 256.9,675.2 273.0,677.2 287.0,677.2 297.1,678.2 307.2,677.8 320.0,677.2 336.2,680.2 356.3,689.2 374.3,697.3 394.4,702.3 414.5,704.3 428.6,706.3 438.7,710.4 456.8,716.0 474.8,718.8 486.9,722.4 499.0,726.0 513.0,729.4 533.1,729.4 539.2,728.4 556.1,725.4 576.2,721.4 596.3,717.4 616.4,717.4 632.5,717.4 646.6,715.4 660.6,713.4 682.7,713.4 696.8,717.4 716.9,726.4 732.0,730.5" fill="none" stroke="#000" stroke-width="1" stroke-linejoin="round" /><g stroke="#ff0000" stroke-width="2" fill="none"><line x1="675.5" y1="644" x2="675.5" y2="700"/><polyline points="666.0,679 675.5,700 685.0,679"/></g></g><clipPath id="oc"><rect x="78" y="644" width="1110" height="163"/></clipPath><g clip-path="url(#oc)"><text x="682.4" y="650" font-size="13.33" fill="#000" text-anchor="start" textLength="96" lengthAdjust="spacing" style="font-family:'Liberation Sans',sans-serif;font-weight:bold;" >Osc Sell Signal</text></g><text x="78.4" y="656.2" font-size="13.33" fill="#000" text-anchor="start" textLength="51.5" lengthAdjust="spacing" style="font-family:'Liberation Sans',sans-serif;font-weight:bold;" >Osc 5,35</text><g shape-rendering="crispEdges"><rect x="78" y="808" width="17" height="16" fill="#696969"/><rect x="78" y="808" width="16" height="15" fill="#fff"/><rect x="79" y="809" width="15" height="14" fill="#a0a0a0"/><rect x="79" y="809" width="14" height="13" fill="#f0f0f0"/><rect x="95" y="808" width="17" height="16" fill="#696969"/><rect x="95" y="808" width="16" height="15" fill="#fff"/><rect x="96" y="809" width="15" height="14" fill="#a0a0a0"/><rect x="96" y="809" width="14" height="13" fill="#f0f0f0"/><polygon points="88,811 88,820 83,815.5" fill="#000"/><polygon points="102,811 102,820 107,815.5" fill="#000"/></g><polygon points="166.20000000000002,807 173.4,823.5 209.5,823.5 216.5,807" fill="#f0f0f0" stroke="none"/><polyline points="166.20000000000002,807 173.4,823.5 209.5,823.5 216.5,807" fill="none" stroke="#000" stroke-width="1.2"/><polygon points="207.20000000000002,807 214.4,823.5 294.5,823.5 301.5,807" fill="#f0f0f0" stroke="none"/><polyline points="207.20000000000002,807 214.4,823.5 294.5,823.5 301.5,807" fill="none" stroke="#000" stroke-width="1.2"/><polygon points="292.2,807 299.4,823.5 372,823.5 379,807" fill="#f0f0f0" stroke="none"/><polyline points="292.2,807 299.4,823.5 372,823.5 379,807" fill="none" stroke="#000" stroke-width="1.2"/><polygon points="369.8,807 377,823.5 438,823.5 445,807" fill="#f0f0f0" stroke="none"/><polyline points="369.8,807 377,823.5 438,823.5 445,807" fill="none" stroke="#000" stroke-width="1.2"/><polygon points="435.8,807 443,823.5 496,823.5 503,807" fill="#f0f0f0" stroke="none"/><polyline points="435.8,807 443,823.5 496,823.5 503,807" fill="none" stroke="#000" stroke-width="1.2"/><polygon points="111.8,807 119,823.5 168.3,823.5 175.3,807" fill="#fff" stroke="none"/><polyline points="111.8,807 119,823.5 168.3,823.5 175.3,807" fill="none" stroke="#000" stroke-width="1.2"/><text x="122.35" y="818.7" font-size="10.67" textLength="43.3" lengthAdjust="spacing" style="font-family:'Liberation Sans',sans-serif">Osc 5,35</text><text x="176.5" y="818.7" font-size="10.67" textLength="29.8" lengthAdjust="spacing" style="font-family:'Liberation Sans',sans-serif">CCI 20</text><text x="217.3" y="818.7" font-size="10.67" textLength="74.4" lengthAdjust="spacing" style="font-family:'Liberation Sans',sans-serif">MACD 13, 26, 9</text><text x="302.55" y="818.7" font-size="10.67" textLength="66.5" lengthAdjust="spacing" style="font-family:'Liberation Sans',sans-serif">Money Flow 7</text><text x="381.05" y="818.7" font-size="10.67" textLength="53.5" lengthAdjust="spacing" style="font-family:'Liberation Sans',sans-serif">RSI 14, 7, 3</text><text x="445.05" y="818.7" font-size="10.67" textLength="48.5" lengthAdjust="spacing" style="font-family:'Liberation Sans',sans-serif">RSI 2, 7, 3</text><rect x="113" y="806" width="62" height="2" fill="#fff" shape-rendering="crispEdges"/><rect x="175" y="807" width="328" height="1" fill="#000" shape-rendering="crispEdges"/><g shape-rendering="crispEdges"><rect x="164" y="830" width="56" height="16" fill="#000"/><rect x="165" y="831" width="54" height="15" fill="#ffffe1"/><rect x="332" y="830" width="1" height="16" fill="#000"/><rect x="479" y="830" width="1" height="16" fill="#000"/><rect x="625" y="830" width="1" height="16" fill="#000"/></g><text x="167" y="844" font-size="14" fill="#000" text-anchor="start" textLength="49.1" lengthAdjust="spacingAndGlyphs" style="font-family:'Liberation Sans',sans-serif;font-weight:bold;" >07/03/25</text><text x="334" y="844" font-size="13.33" fill="#000" letter-spacing="-0.41" text-anchor="start" style="font-family:'Liberation Sans',sans-serif;font-weight:bold;" >Aug</text><text x="481" y="844" font-size="13.33" fill="#000" letter-spacing="-0.41" text-anchor="start" style="font-family:'Liberation Sans',sans-serif;font-weight:bold;" >Sep</text><text x="627" y="844" font-size="13.33" fill="#000" letter-spacing="-0.41" text-anchor="start" style="font-family:'Liberation Sans',sans-serif;font-weight:bold;" >Oct</text><text x="1201" y="844" font-size="14" fill="#0000ff" text-anchor="start" textLength="34.6" lengthAdjust="spacingAndGlyphs" style="font-family:'Liberation Sans',sans-serif;font-weight:bold;" >#2923</text></svg></body></html>
